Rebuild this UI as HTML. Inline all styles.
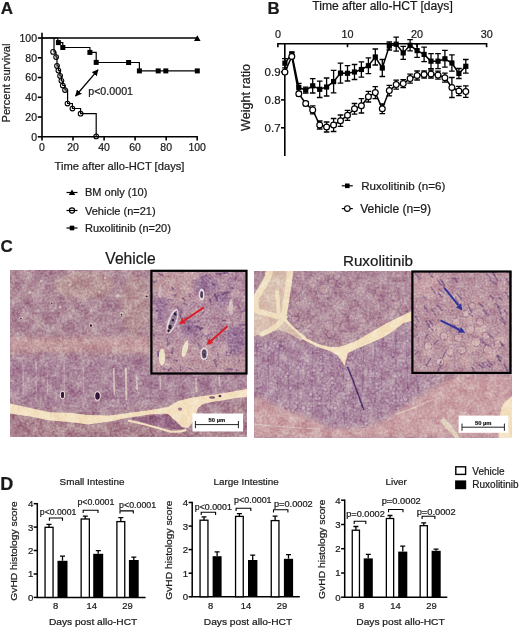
<!DOCTYPE html>
<html><head><meta charset="utf-8"><style>
html,body{margin:0;padding:0;background:#fff;}
svg{display:block;will-change:transform;}
text{font-family:"Liberation Sans", sans-serif;fill:#1a1a1a;stroke:#1a1a1a;stroke-width:0.22px;}
</style></head><body>
<svg width="520" height="629" viewBox="0 0 520 629">
<text x="0.8" y="13.8" font-size="17" text-anchor="start" font-weight="bold" >A</text>
<g stroke="#000" stroke-width="1.6" fill="none">
<path d="M42,32.8 V137.6 M41.2,136.8 H197.9"/>
<path d="M37.8,136.8 H42"/>
<path d="M37.8,117.0 H42"/>
<path d="M37.8,97.3 H42"/>
<path d="M37.8,77.5 H42"/>
<path d="M37.8,57.8 H42"/>
<path d="M37.8,38.0 H42"/>
<path d="M42.0,136.8 V140.6"/>
<path d="M73.0,136.8 V140.6"/>
<path d="M104.1,136.8 V140.6"/>
<path d="M135.1,136.8 V140.6"/>
<path d="M166.2,136.8 V140.6"/>
<path d="M197.2,136.8 V140.6"/>
</g>
<text x="37" y="140.5" font-size="10.5" text-anchor="end" >0</text>
<text x="37" y="120.7" font-size="10.5" text-anchor="end" >20</text>
<text x="37" y="101.0" font-size="10.5" text-anchor="end" >40</text>
<text x="37" y="81.2" font-size="10.5" text-anchor="end" >60</text>
<text x="37" y="61.5" font-size="10.5" text-anchor="end" >80</text>
<text x="37" y="41.7" font-size="10.5" text-anchor="end" >100</text>
<text x="42.0" y="151" font-size="10.5" text-anchor="middle" >0</text>
<text x="73.0" y="151" font-size="10.5" text-anchor="middle" >20</text>
<text x="104.1" y="151" font-size="10.5" text-anchor="middle" >40</text>
<text x="135.1" y="151" font-size="10.5" text-anchor="middle" >60</text>
<text x="166.2" y="151" font-size="10.5" text-anchor="middle" >80</text>
<text x="197.2" y="151" font-size="10.5" text-anchor="middle" >100</text>
<text x="119.5" y="170" font-size="11.2" text-anchor="middle" >Time after allo-HCT [days]</text>
<text transform="translate(9.6,83) rotate(-90)" font-size="11.1" text-anchor="middle">Percent survival</text>
<path d="M42,38 H197.3" stroke="#000" stroke-width="1.3" fill="none"/>
<path d="M197.3,35.2 L200.6,41 L194,41 Z" fill="#000"/>
<path d="M42,38 H57.8 V42.6 H62.8 V47.5 H89.9 V52.4 H96.2 V62.5 H139.4 V70.9 H197.3" stroke="#000" stroke-width="1.2" fill="none"/>
<rect x="55.9" y="40.1" width="5" height="5" fill="#000"/>
<rect x="60.3" y="45.0" width="5" height="5" fill="#000"/>
<rect x="87.4" y="49.9" width="5" height="5" fill="#000"/>
<rect x="93.7" y="59.9" width="5" height="5" fill="#000"/>
<rect x="126.1" y="60.0" width="5" height="5" fill="#000"/>
<rect x="136.9" y="68.4" width="5" height="5" fill="#000"/>
<rect x="155.7" y="68.4" width="5" height="5" fill="#000"/>
<rect x="163.3" y="68.4" width="5" height="5" fill="#000"/>
<rect x="194.8" y="68.4" width="5" height="5" fill="#000"/>
<path d="M54,38 V52 H56 V57 H57 V66 H58.4 V70.6 H60 V76 H61.4 V81 H62.8 V85.5 H65 V90 H67.6 V103.5 H72.4 V108.5 H80.6 V113.7 H96.2 V136.6" stroke="#000" stroke-width="1.2" fill="none"/>
<circle cx="53.1" cy="51.9" r="2.35" fill="none" stroke="#000" stroke-width="1.05"/>
<circle cx="56.1" cy="57.1" r="2.35" fill="none" stroke="#000" stroke-width="1.05"/>
<circle cx="57" cy="65.9" r="2.35" fill="none" stroke="#000" stroke-width="1.05"/>
<circle cx="58.4" cy="70.6" r="2.35" fill="none" stroke="#000" stroke-width="1.05"/>
<circle cx="60.1" cy="75.9" r="2.35" fill="none" stroke="#000" stroke-width="1.05"/>
<circle cx="61.4" cy="80.8" r="2.35" fill="none" stroke="#000" stroke-width="1.05"/>
<circle cx="62.8" cy="85.5" r="2.35" fill="none" stroke="#000" stroke-width="1.05"/>
<circle cx="65" cy="90" r="2.35" fill="none" stroke="#000" stroke-width="1.05"/>
<circle cx="67.5" cy="103.5" r="2.35" fill="none" stroke="#000" stroke-width="1.05"/>
<circle cx="72.4" cy="108.5" r="2.35" fill="none" stroke="#000" stroke-width="1.05"/>
<circle cx="80.6" cy="113.7" r="2.35" fill="none" stroke="#000" stroke-width="1.05"/>
<circle cx="96.2" cy="136.4" r="2.35" fill="none" stroke="#000" stroke-width="1.05"/>
<defs><marker id="ah" viewBox="0 0 10 10" refX="9" refY="5" markerWidth="5" markerHeight="5" orient="auto-start-reverse"><path d="M0,0 L10,5 L0,10 Z" fill="#000"/></marker></defs>
<path d="M75.6,96 L98,69.8" stroke="#000" stroke-width="1.3" marker-start="url(#ah)" marker-end="url(#ah)"/>
<text x="88.2" y="95.0" font-size="10.7" text-anchor="start" >p&lt;0.0001</text>
<path d="M66.5,192.5 H77.5" stroke="#000" stroke-width="1.2"/>
<path d="M72,189.5 L75.2,195.1 L68.8,195.1 Z" fill="#000"/>
<text x="85" y="196.3" font-size="11" text-anchor="start" >BM only (10)</text>
<path d="M66.5,210.5 H77.5" stroke="#000" stroke-width="1.2"/>
<circle cx="72" cy="210.5" r="2.6" fill="none" stroke="#000" stroke-width="1.1"/>
<text x="85" y="214.5" font-size="11" text-anchor="start" >Vehicle (n=21)</text>
<path d="M66.5,228 H77.5" stroke="#000" stroke-width="1.2"/>
<rect x="69.7" y="225.7" width="4.6" height="4.6" fill="#000"/>
<text x="85" y="231.8" font-size="11" text-anchor="start" >Ruxolitinib (n=20)</text>
<text x="267.6" y="13.8" font-size="16.8" text-anchor="start" font-weight="bold" >B</text>
<text x="312.3" y="10.4" font-size="12.1" text-anchor="start" >Time after allo-HCT [days]</text>
<g stroke="#000" stroke-width="1.6" fill="none">
<path d="M277.9,47.2 V43.8 H486.6 V47.2"/>
<path d="M347.5,43.8 V47.2"/>
<path d="M417.1,43.8 V47.2"/>
<path d="M284.8,43.8 V156"/>
<path d="M281,72.0 H284.8"/>
<path d="M281,99.9 H284.8"/>
<path d="M281,127.8 H284.8"/>
</g>
<text x="277.9" y="37.6" font-size="10.8" text-anchor="middle" >0</text>
<text x="347.5" y="37.6" font-size="10.8" text-anchor="middle" >10</text>
<text x="417.1" y="37.6" font-size="10.8" text-anchor="middle" >20</text>
<text x="486.7" y="37.6" font-size="10.8" text-anchor="middle" >30</text>
<text x="280.6" y="76.0" font-size="11.5" text-anchor="end" >0.9</text>
<text x="280.6" y="103.9" font-size="11.5" text-anchor="end" >0.8</text>
<text x="280.6" y="131.8" font-size="11.5" text-anchor="end" >0.7</text>
<text transform="translate(249.6,97.4) rotate(-90)" font-size="12.6" text-anchor="middle">Weight ratio</text>
<path d="M284.9,70.6 V73.6 M282.1,70.6 H287.7 M282.1,73.6 H287.7 M291.8,55.0 V58.0 M289.0,55.0 H294.6 M289.0,58.0 H294.6 M298.8,91.8 V95.8 M296.0,91.8 H301.6 M296.0,95.8 H301.6 M305.7,101.5 V105.5 M302.9,101.5 H308.5 M302.9,105.5 H308.5 M312.7,105.9 V113.9 M309.9,105.9 H315.5 M309.9,113.9 H315.5 M319.7,121.0 V129.0 M316.9,121.0 H322.5 M316.9,129.0 H322.5 M326.6,122.0 V132.0 M323.8,122.0 H329.4 M323.8,132.0 H329.4 M333.6,118.5 V131.5 M330.8,118.5 H336.4 M330.8,131.5 H336.4 M340.5,115.0 V126.4 M337.7,115.0 H343.3 M337.7,126.4 H343.3 M347.5,110.3 V120.3 M344.7,110.3 H350.3 M344.7,120.3 H350.3 M354.5,103.5 V114.1 M351.7,103.5 H357.3 M351.7,114.1 H357.3 M361.4,98.6 V113.0 M358.6,98.6 H364.2 M358.6,113.0 H364.2 M368.4,91.4 V102.0 M365.6,91.4 H371.2 M365.6,102.0 H371.2 M375.3,86.6 V98.6 M372.5,86.6 H378.1 M372.5,98.6 H378.1 M382.3,104.0 V113.6 M379.5,104.0 H385.1 M379.5,113.6 H385.1 M389.3,85.3 V95.9 M386.5,85.3 H392.1 M386.5,95.9 H392.1 M396.2,80.1 V89.1 M393.4,80.1 H399.0 M393.4,89.1 H399.0 M403.2,79.6 V87.6 M400.4,79.6 H406.0 M400.4,87.6 H406.0 M410.1,74.1 V83.1 M407.3,74.1 H412.9 M407.3,83.1 H412.9 M417.1,71.0 V80.0 M414.3,71.0 H419.9 M414.3,80.0 H419.9 M424.1,71.0 V78.0 M421.3,71.0 H426.9 M421.3,78.0 H426.9 M431.0,70.0 V78.0 M428.2,70.0 H433.8 M428.2,78.0 H433.8 M438.0,71.1 V79.1 M435.2,71.1 H440.8 M435.2,79.1 H440.8 M444.9,73.2 V82.2 M442.1,73.2 H447.7 M442.1,82.2 H447.7 M451.9,77.5 V97.5 M449.1,77.5 H454.7 M449.1,97.5 H454.7 M458.9,86.3 V95.7 M456.1,86.3 H461.7 M456.1,95.7 H461.7 M465.8,85.9 V97.3 M463.0,85.9 H468.6 M463.0,97.3 H468.6" stroke="#000" stroke-width="1.3" fill="none"/>
<path d="M284.9,58.6 V67.8 M282.1,58.6 H287.7 M282.1,67.8 H287.7 M291.8,52.3 V55.3 M289.0,52.3 H294.6 M289.0,55.3 H294.6 M298.8,83.4 V91.4 M296.0,83.4 H301.6 M296.0,91.4 H301.6 M305.7,87.1 V93.1 M302.9,87.1 H308.5 M302.9,93.1 H308.5 M312.7,78.6 V93.0 M309.9,78.6 H315.5 M309.9,93.0 H315.5 M319.7,81.1 V97.5 M316.9,81.1 H322.5 M316.9,97.5 H322.5 M326.6,78.0 V96.0 M323.8,78.0 H329.4 M323.8,96.0 H329.4 M333.6,70.3 V92.9 M330.8,70.3 H336.4 M330.8,92.9 H336.4 M340.5,63.1 V83.1 M337.7,63.1 H343.3 M337.7,83.1 H343.3 M347.5,65.6 V81.0 M344.7,65.6 H350.3 M344.7,81.0 H350.3 M354.5,64.5 V79.5 M351.7,64.5 H357.3 M351.7,79.5 H357.3 M361.4,61.8 V77.2 M358.6,61.8 H364.2 M358.6,77.2 H364.2 M368.4,57.8 V73.6 M365.6,57.8 H371.2 M365.6,73.6 H371.2 M375.3,49.0 V65.0 M372.5,49.0 H378.1 M372.5,65.0 H378.1 M382.3,59.5 V76.5 M379.5,59.5 H385.1 M379.5,76.5 H385.1 M389.3,42.0 V50.0 M386.5,42.0 H392.1 M386.5,50.0 H392.1 M396.2,37.2 V51.2 M393.4,37.2 H399.0 M393.4,51.2 H399.0 M403.2,46.4 V59.4 M400.4,46.4 H406.0 M400.4,59.4 H406.0 M410.1,39.7 V50.9 M407.3,39.7 H412.9 M407.3,50.9 H412.9 M417.1,43.8 V57.4 M414.3,43.8 H419.9 M414.3,57.4 H419.9 M424.1,47.2 V61.6 M421.3,47.2 H426.9 M421.3,61.6 H426.9 M431.0,53.7 V68.7 M428.2,53.7 H433.8 M428.2,68.7 H433.8 M438.0,53.7 V68.7 M435.2,53.7 H440.8 M435.2,68.7 H440.8 M444.9,50.4 V67.2 M442.1,50.4 H447.7 M442.1,67.2 H447.7 M451.9,54.8 V71.2 M449.1,54.8 H454.7 M449.1,71.2 H454.7 M458.9,68.5 V78.5 M456.1,68.5 H461.7 M456.1,78.5 H461.7 M465.8,59.5 V73.1 M463.0,59.5 H468.6 M463.0,73.1 H468.6" stroke="#000" stroke-width="1.3" fill="none"/>
<polyline points="284.9,72.1 291.8,56.5 298.8,93.8 305.7,103.5 312.7,109.9 319.7,125 326.6,127 333.6,125 340.5,120.7 347.5,115.3 354.5,108.8 361.4,105.8 368.4,96.7 375.3,92.6 382.3,108.8 389.3,90.6 396.2,84.6 403.2,83.6 410.1,78.6 417.1,75.5 424.1,74.5 431.0,74 438.0,75.1 444.9,77.7 451.9,87.5 458.9,91 465.8,91.6" stroke="#000" stroke-width="1.5" fill="none"/>
<polyline points="284.9,63.2 291.8,53.8 298.8,87.4 305.7,90.1 312.7,85.8 319.7,89.3 326.6,87.0 333.6,81.6 340.5,73.1 347.5,73.3 354.5,72 361.4,69.5 368.4,65.7 375.3,57 382.3,68 389.3,46 396.2,44.2 403.2,52.9 410.1,45.3 417.1,50.6 424.1,54.4 431.0,61.2 438.0,61.2 444.9,58.8 451.9,63 458.9,73.5 465.8,66.3" stroke="#000" stroke-width="1.5" fill="none"/>
<rect x="282.3" y="60.6" width="5.2" height="5.2" fill="#000"/>
<rect x="289.2" y="51.2" width="5.2" height="5.2" fill="#000"/>
<rect x="296.2" y="84.8" width="5.2" height="5.2" fill="#000"/>
<rect x="303.1" y="87.5" width="5.2" height="5.2" fill="#000"/>
<rect x="310.1" y="83.2" width="5.2" height="5.2" fill="#000"/>
<rect x="317.1" y="86.7" width="5.2" height="5.2" fill="#000"/>
<rect x="324.0" y="84.4" width="5.2" height="5.2" fill="#000"/>
<rect x="331.0" y="79.0" width="5.2" height="5.2" fill="#000"/>
<rect x="337.9" y="70.5" width="5.2" height="5.2" fill="#000"/>
<rect x="344.9" y="70.7" width="5.2" height="5.2" fill="#000"/>
<rect x="351.9" y="69.4" width="5.2" height="5.2" fill="#000"/>
<rect x="358.8" y="66.9" width="5.2" height="5.2" fill="#000"/>
<rect x="365.8" y="63.1" width="5.2" height="5.2" fill="#000"/>
<rect x="372.7" y="54.4" width="5.2" height="5.2" fill="#000"/>
<rect x="379.7" y="65.4" width="5.2" height="5.2" fill="#000"/>
<rect x="386.7" y="43.4" width="5.2" height="5.2" fill="#000"/>
<rect x="393.6" y="41.6" width="5.2" height="5.2" fill="#000"/>
<rect x="400.6" y="50.3" width="5.2" height="5.2" fill="#000"/>
<rect x="407.5" y="42.7" width="5.2" height="5.2" fill="#000"/>
<rect x="414.5" y="48.0" width="5.2" height="5.2" fill="#000"/>
<rect x="421.5" y="51.8" width="5.2" height="5.2" fill="#000"/>
<rect x="428.4" y="58.6" width="5.2" height="5.2" fill="#000"/>
<rect x="435.4" y="58.6" width="5.2" height="5.2" fill="#000"/>
<rect x="442.3" y="56.2" width="5.2" height="5.2" fill="#000"/>
<rect x="449.3" y="60.4" width="5.2" height="5.2" fill="#000"/>
<rect x="456.3" y="70.9" width="5.2" height="5.2" fill="#000"/>
<rect x="463.2" y="63.7" width="5.2" height="5.2" fill="#000"/>
<circle cx="284.9" cy="72.1" r="2.9" fill="#fff" stroke="#000" stroke-width="1.2"/>
<circle cx="291.8" cy="56.5" r="2.9" fill="#fff" stroke="#000" stroke-width="1.2"/>
<circle cx="298.8" cy="93.8" r="2.9" fill="#fff" stroke="#000" stroke-width="1.2"/>
<circle cx="305.7" cy="103.5" r="2.9" fill="#fff" stroke="#000" stroke-width="1.2"/>
<circle cx="312.7" cy="109.9" r="2.9" fill="#fff" stroke="#000" stroke-width="1.2"/>
<circle cx="319.7" cy="125" r="2.9" fill="#fff" stroke="#000" stroke-width="1.2"/>
<circle cx="326.6" cy="127" r="2.9" fill="#fff" stroke="#000" stroke-width="1.2"/>
<circle cx="333.6" cy="125" r="2.9" fill="#fff" stroke="#000" stroke-width="1.2"/>
<circle cx="340.5" cy="120.7" r="2.9" fill="#fff" stroke="#000" stroke-width="1.2"/>
<circle cx="347.5" cy="115.3" r="2.9" fill="#fff" stroke="#000" stroke-width="1.2"/>
<circle cx="354.5" cy="108.8" r="2.9" fill="#fff" stroke="#000" stroke-width="1.2"/>
<circle cx="361.4" cy="105.8" r="2.9" fill="#fff" stroke="#000" stroke-width="1.2"/>
<circle cx="368.4" cy="96.7" r="2.9" fill="#fff" stroke="#000" stroke-width="1.2"/>
<circle cx="375.3" cy="92.6" r="2.9" fill="#fff" stroke="#000" stroke-width="1.2"/>
<circle cx="382.3" cy="108.8" r="2.9" fill="#fff" stroke="#000" stroke-width="1.2"/>
<circle cx="389.3" cy="90.6" r="2.9" fill="#fff" stroke="#000" stroke-width="1.2"/>
<circle cx="396.2" cy="84.6" r="2.9" fill="#fff" stroke="#000" stroke-width="1.2"/>
<circle cx="403.2" cy="83.6" r="2.9" fill="#fff" stroke="#000" stroke-width="1.2"/>
<circle cx="410.1" cy="78.6" r="2.9" fill="#fff" stroke="#000" stroke-width="1.2"/>
<circle cx="417.1" cy="75.5" r="2.9" fill="#fff" stroke="#000" stroke-width="1.2"/>
<circle cx="424.1" cy="74.5" r="2.9" fill="#fff" stroke="#000" stroke-width="1.2"/>
<circle cx="431.0" cy="74" r="2.9" fill="#fff" stroke="#000" stroke-width="1.2"/>
<circle cx="438.0" cy="75.1" r="2.9" fill="#fff" stroke="#000" stroke-width="1.2"/>
<circle cx="444.9" cy="77.7" r="2.9" fill="#fff" stroke="#000" stroke-width="1.2"/>
<circle cx="451.9" cy="87.5" r="2.9" fill="#fff" stroke="#000" stroke-width="1.2"/>
<circle cx="458.9" cy="91" r="2.9" fill="#fff" stroke="#000" stroke-width="1.2"/>
<circle cx="465.8" cy="91.6" r="2.9" fill="#fff" stroke="#000" stroke-width="1.2"/>
<path d="M341.8,185.8 H352.8" stroke="#000" stroke-width="1.2"/>
<rect x="345.0" y="183.5" width="4.6" height="4.6" fill="#000"/>
<text x="361.2" y="189.6" font-size="11.6" text-anchor="start" >Ruxolitinib (n=6)</text>
<path d="M341.8,208.6 H352.8" stroke="#000" stroke-width="1.2"/>
<circle cx="347.3" cy="208.6" r="2.8" fill="#fff" stroke="#000" stroke-width="1.1"/>
<text x="360.2" y="212.6" font-size="12.1" text-anchor="start" >Vehicle (n=9)</text>
<text x="0.6" y="252.3" font-size="17" text-anchor="start" font-weight="bold" >C</text>
<text x="130.5" y="264.2" font-size="15.6" text-anchor="middle" >Vehicle</text>
<text x="378" y="265.6" font-size="15.2" text-anchor="middle" >Ruxolitinib</text>
<defs>
<filter id="nz1" x="0" y="0" width="100%" height="100%" color-interpolation-filters="sRGB">
 <feTurbulence type="fractalNoise" baseFrequency="0.4" numOctaves="2" seed="4" result="f0"/>
 <feColorMatrix in="f0" type="matrix" values="1 0 0 0 0  1 0 0 0 0  1 0 0 0 0  0 0 0 0 1" result="f"/>
 <feTurbulence type="fractalNoise" baseFrequency="0.09" numOctaves="2" seed="7" result="c0"/>
 <feColorMatrix in="c0" type="matrix" values="1 0 0 0 0  1 0 0 0 0  1 0 0 0 0  0 0 0 0 1" result="c"/>
 <feComposite in="f" in2="c" operator="arithmetic" k1="0" k2="0.5333333333333333" k3="0.4666666666666666" k4="0.000" result="n"/>
 <feColorMatrix in="n" type="matrix" values="0.8624999999999999 0 0 0 0.069  0 0.9375 0 0 0.031  0 0 0.75 0 0.125  0 0 0 0 1" result="m"/>
 <feGaussianBlur in="m" stdDeviation="0.35"/>
</filter>
<filter id="nz2" x="0" y="0" width="100%" height="100%" color-interpolation-filters="sRGB">
 <feTurbulence type="fractalNoise" baseFrequency="0.4" numOctaves="2" seed="13" result="f0"/>
 <feColorMatrix in="f0" type="matrix" values="1 0 0 0 0  1 0 0 0 0  1 0 0 0 0  0 0 0 0 1" result="f"/>
 <feTurbulence type="fractalNoise" baseFrequency="0.09" numOctaves="2" seed="21" result="c0"/>
 <feColorMatrix in="c0" type="matrix" values="1 0 0 0 0  1 0 0 0 0  1 0 0 0 0  0 0 0 0 1" result="c"/>
 <feComposite in="f" in2="c" operator="arithmetic" k1="0" k2="0.5333333333333333" k3="0.4666666666666666" k4="0.000" result="n"/>
 <feColorMatrix in="n" type="matrix" values="0.8624999999999999 0 0 0 0.069  0 0.9375 0 0 0.031  0 0 0.75 0 0.125  0 0 0 0 1" result="m"/>
 <feGaussianBlur in="m" stdDeviation="0.35"/>
</filter>
<filter id="nz3" x="0" y="0" width="100%" height="100%" color-interpolation-filters="sRGB">
 <feTurbulence type="fractalNoise" baseFrequency="0.5" numOctaves="2" seed="5" result="f0"/>
 <feColorMatrix in="f0" type="matrix" values="1 0 0 0 0  1 0 0 0 0  1 0 0 0 0  0 0 0 0 1" result="f"/>
 <feTurbulence type="fractalNoise" baseFrequency="0.12" numOctaves="2" seed="31" result="c0"/>
 <feColorMatrix in="c0" type="matrix" values="1 0 0 0 0  1 0 0 0 0  1 0 0 0 0  0 0 0 0 1" result="c"/>
 <feComposite in="f" in2="c" operator="arithmetic" k1="0" k2="0.6" k3="0.39999999999999997" k4="0.000" result="n"/>
 <feColorMatrix in="n" type="matrix" values="0.8624999999999999 0 0 0 0.069  0 0.9375 0 0 0.031  0 0 0.75 0 0.125  0 0 0 0 1" result="m"/>
 <feGaussianBlur in="m" stdDeviation="0.35"/>
</filter>
<filter id="soft" x="-5%" y="-5%" width="110%" height="110%"><feGaussianBlur stdDeviation="2"/></filter>
<filter id="soft2" x="-5%" y="-5%" width="110%" height="110%"><feGaussianBlur stdDeviation="0.6"/></filter>
<clipPath id="cL"><rect x="10" y="270" width="237" height="167"/></clipPath>
<clipPath id="cR"><rect x="254" y="271" width="257.5" height="167"/></clipPath>
<clipPath id="cLi"><rect x="151.4" y="270.8" width="95.1" height="102.7"/></clipPath>
<clipPath id="cRi"><rect x="412.4" y="271.5" width="98" height="101.4"/></clipPath>
</defs>
<g clip-path="url(#cL)" style="isolation:isolate">
<rect x="10" y="270" width="237" height="167" fill="rgb(174,139,153)"/>
<g filter="url(#soft)">
<ellipse cx="85" cy="285" rx="30" ry="14" fill="rgb(184,150,152)"/>
<ellipse cx="135" cy="305" rx="14" ry="30" fill="rgb(182,148,152)"/>
<path d="M10,337 C60,338 110,337 150,336 L150,353 C110,353 60,352 10,353 Z" fill="rgb(194,155,158)"/>
<path d="M10,356 L247,356 L247,390 C200,396 150,405 100,412 C60,410 30,404 10,402 Z" fill="rgb(170,134,154)"/>
<path d="M10,412 C40,418 80,424 120,422 C150,424 170,430 190,430 L247,400 L247,437 L10,437 Z" fill="rgb(170,131,142)"/>
</g>
<g filter="url(#soft2)">
<path d="M113.7,368 L114.3,395" stroke="rgb(212,192,185)" stroke-width="1.8"/>
<path d="M125.8,368 L126.39999999999999,400" stroke="rgb(218,200,192)" stroke-width="2.0"/>
<path d="M136.5,375 L137.1,390" stroke="rgb(205,185,182)" stroke-width="1.8"/>
<path d="M196,378 L196.6,392" stroke="rgb(205,185,182)" stroke-width="1.8"/>
<path d="M219,375 L219.6,386" stroke="rgb(200,180,180)" stroke-width="1.8"/>
<path d="M160,376 L160.6,390" stroke="rgb(205,180,185)" stroke-width="1.6"/>
<path d="M64,360 L64.6,392" stroke="rgb(190,160,172)" stroke-width="1.5"/>
<path d="M83,360 L83.6,392" stroke="rgb(190,160,172)" stroke-width="1.5"/>
<path d="M36,362 L36.6,395" stroke="rgb(188,158,170)" stroke-width="1.5"/>
<path d="M23,362 L23.6,395" stroke="rgb(188,158,170)" stroke-width="1.5"/>
<path d="M47,362 L47.6,395" stroke="rgb(188,158,170)" stroke-width="1.2"/>
<ellipse cx="21" cy="318" rx="2" ry="1.6" fill="rgb(218,200,190)" opacity="0.8"/>
<ellipse cx="51.8" cy="302.9" rx="1.6" ry="1.6" fill="rgb(218,200,190)" opacity="0.8"/>
<ellipse cx="60.2" cy="307" rx="1.5" ry="1.5" fill="rgb(218,200,190)" opacity="0.8"/>
<ellipse cx="90.9" cy="325" rx="2.2" ry="2.6" fill="rgb(218,200,190)" opacity="0.8"/>
<ellipse cx="121.5" cy="314" rx="1.8" ry="2" fill="rgb(218,200,190)" opacity="0.8"/>
<ellipse cx="146.6" cy="295.9" rx="2.4" ry="1.8" fill="rgb(218,200,190)" opacity="0.8"/>
<ellipse cx="117.4" cy="295.9" rx="2.3" ry="1.6" fill="rgb(218,200,190)" opacity="0.8"/>
<ellipse cx="70" cy="285" rx="1.5" ry="1.5" fill="rgb(218,200,190)" opacity="0.8"/>
<ellipse cx="99" cy="292" rx="1.5" ry="1.5" fill="rgb(218,200,190)" opacity="0.8"/>
<ellipse cx="30" cy="292" rx="1.5" ry="1.5" fill="rgb(218,200,190)" opacity="0.8"/>
<ellipse cx="41" cy="281" rx="1.3" ry="1.3" fill="rgb(218,200,190)" opacity="0.8"/>
<ellipse cx="105" cy="278" rx="1.3" ry="1.3" fill="rgb(218,200,190)" opacity="0.8"/>
<ellipse cx="21" cy="318.5" rx="0.9" ry="0.8" fill="rgb(60,35,60)"/>
<ellipse cx="90.9" cy="325.5" rx="1.2" ry="1.6" fill="rgb(60,35,60)"/>
<ellipse cx="121.5" cy="314.5" rx="0.9" ry="1" fill="rgb(60,35,60)"/>
<ellipse cx="146.6" cy="296.3" rx="1.2" ry="0.9" fill="rgb(60,35,60)"/>
<ellipse cx="51.8" cy="303.3" rx="0.8" ry="0.8" fill="rgb(60,35,60)"/>
<ellipse cx="62.5" cy="395" rx="2.6" ry="4.2" fill="rgb(235,225,220)"/>
<ellipse cx="62.5" cy="395" rx="1.6" ry="3.2" fill="rgb(60,30,60)"/>
<ellipse cx="97.5" cy="396" rx="3.2" ry="4.8" fill="rgb(235,225,220)"/>
<ellipse cx="97.5" cy="396" rx="2.3" ry="3.8" fill="rgb(50,25,55)"/>
</g>
<g filter="url(#soft2)">
<polygon points="10,403.5 30,408 50,412.2 70,412.7 88,415 110,415.4 128,413 150,410 168,407 178,401 190,398 203,396 215,394.5 230,392 247,389 247,397 236,398 225,400 212,402 203,404 198,408 196,414 193,422 188,428 182,427 176,421 170,416 166,413.5 150,414.6 128,417.7 110,421.5 88,424.6 70,422 50,420.4 30,416.5 10,413.5" fill="rgb(243,224,192)"/>
<path d="M128,420.5 C140,423 155,427 168,431 C174,432.5 180,432 186,430" stroke="rgb(243,224,192)" stroke-width="2" fill="none"/>
<path d="M130,418.5 C145,417 158,415 168,414 C174,420 180,426 184,429 C175,430 160,428 145,423 Z" fill="rgb(150,104,132)"/>
<ellipse cx="180" cy="409" rx="2" ry="1.5" fill="rgb(150,110,140)"/>
<ellipse cx="212" cy="397.5" rx="3" ry="1.2" fill="rgb(120,80,110)"/>
<ellipse cx="220" cy="396" rx="1.5" ry="1.2" fill="rgb(80,50,80)"/>
</g>
<rect x="10" y="270" width="237" height="167" filter="url(#nz1)" style="mix-blend-mode:overlay" opacity="0.8"/>
</g>
<g clip-path="url(#cR)" style="isolation:isolate">
<rect x="254" y="271" width="258" height="167" fill="rgb(177,142,157)"/>
<g filter="url(#soft)">
<polygon points="254,336 275,339 290,341 305,344 330,350 345,352 360,345 380,335 400,322 412,316 412,374 440,374 425,392 400,410 385,418 360,427 340,429 320,424 300,414 280,405 265,398 254,395" fill="rgb(175,141,162)"/>
<polygon points="254,396 262,399 280,408 304,416 318,422 325,427 340,428.5 360,428 380,423 395,413 410,403 425,393 440,384 450,378 460,375 512,375 512,438 254,438" fill="rgb(202,162,166)"/>
</g>
<g filter="url(#soft2)">
<path d="M257.0,339 L257.2,393" stroke="rgb(135,98,140)" stroke-width="1.2" opacity="0.4"/>
<path d="M268.0,340 L268.6,397" stroke="rgb(135,98,140)" stroke-width="1.2" opacity="0.4"/>
<path d="M279.5,342 L276.9,402" stroke="rgb(135,98,140)" stroke-width="1.2" opacity="0.4"/>
<path d="M287.6,343 L289.6,406" stroke="rgb(135,98,140)" stroke-width="1.2" opacity="0.4"/>
<path d="M299.0,345 L297.4,411" stroke="rgb(135,98,140)" stroke-width="1.2" opacity="0.4"/>
<path d="M312.5,348 L312.3,418" stroke="rgb(135,98,140)" stroke-width="1.2" opacity="0.4"/>
<path d="M322.3,351 L322.2,422" stroke="rgb(135,98,140)" stroke-width="1.2" opacity="0.4"/>
<path d="M332.1,353 L330.0,425" stroke="rgb(135,98,140)" stroke-width="1.2" opacity="0.4"/>
<path d="M342.5,354 L344.7,426" stroke="rgb(135,98,140)" stroke-width="1.2" opacity="0.4"/>
<path d="M352.6,351 L354.0,425" stroke="rgb(135,98,140)" stroke-width="1.2" opacity="0.4"/>
<path d="M363.7,346 L361.1,423" stroke="rgb(135,98,140)" stroke-width="1.2" opacity="0.4"/>
<path d="M374.5,340 L375.1,419" stroke="rgb(135,98,140)" stroke-width="1.2" opacity="0.4"/>
<path d="M383.2,335 L380.4,416" stroke="rgb(135,98,140)" stroke-width="1.2" opacity="0.4"/>
<path d="M396.0,332 L395.8,410" stroke="rgb(135,98,140)" stroke-width="1.2" opacity="0.4"/>
<path d="M405.9,332 L408.1,403" stroke="rgb(135,98,140)" stroke-width="1.2" opacity="0.4"/>
<path d="M416.4,376 L418.9,396" stroke="rgb(135,98,140)" stroke-width="1.2" opacity="0.4"/>
<circle cx="327.5" cy="412.1" r="1.9" fill="rgb(200,170,184)" stroke="rgb(135,98,140)" stroke-width="0.6" opacity="0.6"/>
<circle cx="272.1" cy="352.2" r="1.7" fill="rgb(200,170,184)" stroke="rgb(135,98,140)" stroke-width="0.6" opacity="0.6"/>
<circle cx="433.6" cy="379.3" r="2.1" fill="rgb(200,170,184)" stroke="rgb(135,98,140)" stroke-width="0.6" opacity="0.6"/>
<circle cx="310.0" cy="385.7" r="1.8" fill="rgb(200,170,184)" stroke="rgb(135,98,140)" stroke-width="0.6" opacity="0.6"/>
<circle cx="319.3" cy="392.7" r="2.0" fill="rgb(200,170,184)" stroke="rgb(135,98,140)" stroke-width="0.6" opacity="0.6"/>
<circle cx="359.9" cy="404.2" r="1.7" fill="rgb(200,170,184)" stroke="rgb(135,98,140)" stroke-width="0.6" opacity="0.6"/>
<circle cx="408.7" cy="391.6" r="1.8" fill="rgb(200,170,184)" stroke="rgb(135,98,140)" stroke-width="0.6" opacity="0.6"/>
<circle cx="402.9" cy="376.9" r="1.6" fill="rgb(200,170,184)" stroke="rgb(135,98,140)" stroke-width="0.6" opacity="0.6"/>
<circle cx="308.7" cy="409.2" r="2.3" fill="rgb(200,170,184)" stroke="rgb(135,98,140)" stroke-width="0.6" opacity="0.6"/>
<circle cx="262.2" cy="395.3" r="1.5" fill="rgb(200,170,184)" stroke="rgb(135,98,140)" stroke-width="0.6" opacity="0.6"/>
<circle cx="387.6" cy="369.8" r="2.3" fill="rgb(200,170,184)" stroke="rgb(135,98,140)" stroke-width="0.6" opacity="0.6"/>
<circle cx="268.3" cy="394.0" r="1.5" fill="rgb(200,170,184)" stroke="rgb(135,98,140)" stroke-width="0.6" opacity="0.6"/>
<circle cx="290.7" cy="376.7" r="2.0" fill="rgb(200,170,184)" stroke="rgb(135,98,140)" stroke-width="0.6" opacity="0.6"/>
<circle cx="283.1" cy="343.8" r="2.3" fill="rgb(200,170,184)" stroke="rgb(135,98,140)" stroke-width="0.6" opacity="0.6"/>
<circle cx="420.8" cy="374.0" r="1.9" fill="rgb(200,170,184)" stroke="rgb(135,98,140)" stroke-width="0.6" opacity="0.6"/>
<circle cx="350.7" cy="397.9" r="2.0" fill="rgb(200,170,184)" stroke="rgb(135,98,140)" stroke-width="0.6" opacity="0.6"/>
<circle cx="358.0" cy="395.8" r="2.3" fill="rgb(200,170,184)" stroke="rgb(135,98,140)" stroke-width="0.6" opacity="0.6"/>
<circle cx="348.3" cy="378.8" r="2.1" fill="rgb(200,170,184)" stroke="rgb(135,98,140)" stroke-width="0.6" opacity="0.6"/>
<circle cx="298.2" cy="367.1" r="2.4" fill="rgb(200,170,184)" stroke="rgb(135,98,140)" stroke-width="0.6" opacity="0.6"/>
<circle cx="350.9" cy="389.4" r="1.5" fill="rgb(200,170,184)" stroke="rgb(135,98,140)" stroke-width="0.6" opacity="0.6"/>
<circle cx="331.2" cy="392.2" r="1.5" fill="rgb(200,170,184)" stroke="rgb(135,98,140)" stroke-width="0.6" opacity="0.6"/>
<circle cx="368.5" cy="396.9" r="1.6" fill="rgb(200,170,184)" stroke="rgb(135,98,140)" stroke-width="0.6" opacity="0.6"/>
<circle cx="370.7" cy="382.0" r="2.1" fill="rgb(200,170,184)" stroke="rgb(135,98,140)" stroke-width="0.6" opacity="0.6"/>
<circle cx="319.6" cy="403.6" r="2.2" fill="rgb(200,170,184)" stroke="rgb(135,98,140)" stroke-width="0.6" opacity="0.6"/>
<circle cx="258.1" cy="345.5" r="2.1" fill="rgb(200,170,184)" stroke="rgb(135,98,140)" stroke-width="0.6" opacity="0.6"/>
<circle cx="338.9" cy="393.3" r="1.8" fill="rgb(200,170,184)" stroke="rgb(135,98,140)" stroke-width="0.6" opacity="0.6"/>
<circle cx="321.7" cy="368.1" r="1.8" fill="rgb(200,170,184)" stroke="rgb(135,98,140)" stroke-width="0.6" opacity="0.6"/>
<circle cx="364.8" cy="367.0" r="1.8" fill="rgb(200,170,184)" stroke="rgb(135,98,140)" stroke-width="0.6" opacity="0.6"/>
<circle cx="397.6" cy="342.4" r="2.0" fill="rgb(200,170,184)" stroke="rgb(135,98,140)" stroke-width="0.6" opacity="0.6"/>
<circle cx="390.7" cy="367.9" r="1.7" fill="rgb(200,170,184)" stroke="rgb(135,98,140)" stroke-width="0.6" opacity="0.6"/>
<circle cx="403.5" cy="361.5" r="1.7" fill="rgb(200,170,184)" stroke="rgb(135,98,140)" stroke-width="0.6" opacity="0.6"/>
<circle cx="335.0" cy="402.8" r="1.6" fill="rgb(200,170,184)" stroke="rgb(135,98,140)" stroke-width="0.6" opacity="0.6"/>
<circle cx="313.9" cy="370.0" r="2.3" fill="rgb(200,170,184)" stroke="rgb(135,98,140)" stroke-width="0.6" opacity="0.6"/>
<circle cx="335.5" cy="417.0" r="1.7" fill="rgb(200,170,184)" stroke="rgb(135,98,140)" stroke-width="0.6" opacity="0.6"/>
<circle cx="316.6" cy="398.5" r="2.3" fill="rgb(200,170,184)" stroke="rgb(135,98,140)" stroke-width="0.6" opacity="0.6"/>
<circle cx="337.9" cy="360.3" r="1.6" fill="rgb(200,170,184)" stroke="rgb(135,98,140)" stroke-width="0.6" opacity="0.6"/>
<circle cx="352.5" cy="357.2" r="2.2" fill="rgb(200,170,184)" stroke="rgb(135,98,140)" stroke-width="0.6" opacity="0.6"/>
<circle cx="410.0" cy="356.5" r="1.8" fill="rgb(200,170,184)" stroke="rgb(135,98,140)" stroke-width="0.6" opacity="0.6"/>
<circle cx="404.1" cy="397.8" r="2.2" fill="rgb(200,170,184)" stroke="rgb(135,98,140)" stroke-width="0.6" opacity="0.6"/>
<circle cx="318.2" cy="351.7" r="1.8" fill="rgb(200,170,184)" stroke="rgb(135,98,140)" stroke-width="0.6" opacity="0.6"/>
<circle cx="401.7" cy="364.4" r="1.8" fill="rgb(200,170,184)" stroke="rgb(135,98,140)" stroke-width="0.6" opacity="0.6"/>
<circle cx="331.5" cy="377.8" r="1.9" fill="rgb(200,170,184)" stroke="rgb(135,98,140)" stroke-width="0.6" opacity="0.6"/>
<circle cx="334.8" cy="425.5" r="2.3" fill="rgb(200,170,184)" stroke="rgb(135,98,140)" stroke-width="0.6" opacity="0.6"/>
<circle cx="295.3" cy="407.1" r="2.3" fill="rgb(200,170,184)" stroke="rgb(135,98,140)" stroke-width="0.6" opacity="0.6"/>
<circle cx="377.3" cy="386.7" r="1.8" fill="rgb(200,170,184)" stroke="rgb(135,98,140)" stroke-width="0.6" opacity="0.6"/>
<circle cx="317.4" cy="360.5" r="1.6" fill="rgb(200,170,184)" stroke="rgb(135,98,140)" stroke-width="0.6" opacity="0.6"/>
<circle cx="363.5" cy="365.8" r="2.2" fill="rgb(200,170,184)" stroke="rgb(135,98,140)" stroke-width="0.6" opacity="0.6"/>
<circle cx="392.6" cy="355.5" r="1.8" fill="rgb(200,170,184)" stroke="rgb(135,98,140)" stroke-width="0.6" opacity="0.6"/>
<circle cx="377.3" cy="387.2" r="1.9" fill="rgb(200,170,184)" stroke="rgb(135,98,140)" stroke-width="0.6" opacity="0.6"/>
<circle cx="317.5" cy="362.7" r="2.3" fill="rgb(200,170,184)" stroke="rgb(135,98,140)" stroke-width="0.6" opacity="0.6"/>
<circle cx="342.8" cy="410.4" r="1.8" fill="rgb(200,170,184)" stroke="rgb(135,98,140)" stroke-width="0.6" opacity="0.6"/>
<circle cx="290.7" cy="388.1" r="2.2" fill="rgb(200,170,184)" stroke="rgb(135,98,140)" stroke-width="0.6" opacity="0.6"/>
<circle cx="407.2" cy="340.7" r="2.1" fill="rgb(200,170,184)" stroke="rgb(135,98,140)" stroke-width="0.6" opacity="0.6"/>
<circle cx="304.5" cy="364.2" r="2.0" fill="rgb(200,170,184)" stroke="rgb(135,98,140)" stroke-width="0.6" opacity="0.6"/>
<circle cx="332.7" cy="382.6" r="2.2" fill="rgb(200,170,184)" stroke="rgb(135,98,140)" stroke-width="0.6" opacity="0.6"/>
<circle cx="254.3" cy="344.9" r="1.6" fill="rgb(200,170,184)" stroke="rgb(135,98,140)" stroke-width="0.6" opacity="0.6"/>
<circle cx="277.2" cy="346.2" r="2.4" fill="rgb(200,170,184)" stroke="rgb(135,98,140)" stroke-width="0.6" opacity="0.6"/>
<circle cx="347.4" cy="368.4" r="1.8" fill="rgb(200,170,184)" stroke="rgb(135,98,140)" stroke-width="0.6" opacity="0.6"/>
<circle cx="319.3" cy="398.2" r="2.0" fill="rgb(200,170,184)" stroke="rgb(135,98,140)" stroke-width="0.6" opacity="0.6"/>
<circle cx="321.1" cy="357.2" r="1.8" fill="rgb(200,170,184)" stroke="rgb(135,98,140)" stroke-width="0.6" opacity="0.6"/>
<circle cx="277.0" cy="390.0" r="2.1" fill="rgb(200,170,184)" stroke="rgb(135,98,140)" stroke-width="0.6" opacity="0.6"/>
<circle cx="287.2" cy="373.6" r="2.0" fill="rgb(200,170,184)" stroke="rgb(135,98,140)" stroke-width="0.6" opacity="0.6"/>
<circle cx="399.6" cy="374.2" r="2.2" fill="rgb(200,170,184)" stroke="rgb(135,98,140)" stroke-width="0.6" opacity="0.6"/>
<circle cx="369.9" cy="378.8" r="1.8" fill="rgb(200,170,184)" stroke="rgb(135,98,140)" stroke-width="0.6" opacity="0.6"/>
<circle cx="346.3" cy="403.3" r="1.9" fill="rgb(200,170,184)" stroke="rgb(135,98,140)" stroke-width="0.6" opacity="0.6"/>
<circle cx="383.1" cy="381.5" r="1.7" fill="rgb(200,170,184)" stroke="rgb(135,98,140)" stroke-width="0.6" opacity="0.6"/>
<circle cx="353.7" cy="402.6" r="1.6" fill="rgb(200,170,184)" stroke="rgb(135,98,140)" stroke-width="0.6" opacity="0.6"/>
<circle cx="333.0" cy="378.3" r="2.3" fill="rgb(200,170,184)" stroke="rgb(135,98,140)" stroke-width="0.6" opacity="0.6"/>
<circle cx="302.8" cy="381.8" r="1.6" fill="rgb(200,170,184)" stroke="rgb(135,98,140)" stroke-width="0.6" opacity="0.6"/>
<circle cx="405.3" cy="399.6" r="2.3" fill="rgb(200,170,184)" stroke="rgb(135,98,140)" stroke-width="0.6" opacity="0.6"/>
<circle cx="401.4" cy="400.1" r="2.2" fill="rgb(200,170,184)" stroke="rgb(135,98,140)" stroke-width="0.6" opacity="0.6"/>
<circle cx="358.9" cy="349.3" r="2.0" fill="rgb(200,170,184)" stroke="rgb(135,98,140)" stroke-width="0.6" opacity="0.6"/>
<circle cx="254.9" cy="352.9" r="2.2" fill="rgb(200,170,184)" stroke="rgb(135,98,140)" stroke-width="0.6" opacity="0.6"/>
<circle cx="262.2" cy="348.3" r="1.6" fill="rgb(200,170,184)" stroke="rgb(135,98,140)" stroke-width="0.6" opacity="0.6"/>
<circle cx="379.3" cy="415.3" r="2.4" fill="rgb(200,170,184)" stroke="rgb(135,98,140)" stroke-width="0.6" opacity="0.6"/>
<circle cx="361.7" cy="411.9" r="1.5" fill="rgb(200,170,184)" stroke="rgb(135,98,140)" stroke-width="0.6" opacity="0.6"/>
<circle cx="396.7" cy="386.0" r="2.1" fill="rgb(200,170,184)" stroke="rgb(135,98,140)" stroke-width="0.6" opacity="0.6"/>
<circle cx="314.3" cy="390.8" r="2.2" fill="rgb(200,170,184)" stroke="rgb(135,98,140)" stroke-width="0.6" opacity="0.6"/>
<circle cx="299.0" cy="356.2" r="1.7" fill="rgb(200,170,184)" stroke="rgb(135,98,140)" stroke-width="0.6" opacity="0.6"/>
<circle cx="368.6" cy="407.8" r="1.9" fill="rgb(200,170,184)" stroke="rgb(135,98,140)" stroke-width="0.6" opacity="0.6"/>
<circle cx="322.3" cy="375.7" r="1.8" fill="rgb(200,170,184)" stroke="rgb(135,98,140)" stroke-width="0.6" opacity="0.6"/>
<circle cx="347.1" cy="427.6" r="1.9" fill="rgb(200,170,184)" stroke="rgb(135,98,140)" stroke-width="0.6" opacity="0.6"/>
<circle cx="393.0" cy="354.5" r="2.1" fill="rgb(200,170,184)" stroke="rgb(135,98,140)" stroke-width="0.6" opacity="0.6"/>
<circle cx="394.6" cy="400.6" r="2.0" fill="rgb(200,170,184)" stroke="rgb(135,98,140)" stroke-width="0.6" opacity="0.6"/>
<circle cx="344.0" cy="397.9" r="2.3" fill="rgb(200,170,184)" stroke="rgb(135,98,140)" stroke-width="0.6" opacity="0.6"/>
<circle cx="281.8" cy="348.6" r="2.2" fill="rgb(200,170,184)" stroke="rgb(135,98,140)" stroke-width="0.6" opacity="0.6"/>
<circle cx="424.5" cy="386.6" r="1.9" fill="rgb(200,170,184)" stroke="rgb(135,98,140)" stroke-width="0.6" opacity="0.6"/>
<circle cx="387.7" cy="356.7" r="1.7" fill="rgb(200,170,184)" stroke="rgb(135,98,140)" stroke-width="0.6" opacity="0.6"/>
<circle cx="291.0" cy="392.7" r="1.8" fill="rgb(200,170,184)" stroke="rgb(135,98,140)" stroke-width="0.6" opacity="0.6"/>
<circle cx="297.2" cy="402.2" r="2.4" fill="rgb(200,170,184)" stroke="rgb(135,98,140)" stroke-width="0.6" opacity="0.6"/>
<circle cx="309.0" cy="403.5" r="1.9" fill="rgb(200,170,184)" stroke="rgb(135,98,140)" stroke-width="0.6" opacity="0.6"/>
<circle cx="412.8" cy="392.6" r="1.7" fill="rgb(200,170,184)" stroke="rgb(135,98,140)" stroke-width="0.6" opacity="0.6"/>
<circle cx="294.5" cy="342.1" r="1.9" fill="rgb(200,170,184)" stroke="rgb(135,98,140)" stroke-width="0.6" opacity="0.6"/>
<circle cx="325.2" cy="355.5" r="1.8" fill="rgb(200,170,184)" stroke="rgb(135,98,140)" stroke-width="0.6" opacity="0.6"/>
<circle cx="313.9" cy="409.7" r="1.6" fill="rgb(200,170,184)" stroke="rgb(135,98,140)" stroke-width="0.6" opacity="0.6"/>
<circle cx="365.4" cy="382.1" r="2.3" fill="rgb(200,170,184)" stroke="rgb(135,98,140)" stroke-width="0.6" opacity="0.6"/>
<circle cx="406.8" cy="390.1" r="1.9" fill="rgb(200,170,184)" stroke="rgb(135,98,140)" stroke-width="0.6" opacity="0.6"/>
<circle cx="328.4" cy="406.0" r="2.4" fill="rgb(200,170,184)" stroke="rgb(135,98,140)" stroke-width="0.6" opacity="0.6"/>
<circle cx="340.9" cy="360.7" r="1.7" fill="rgb(200,170,184)" stroke="rgb(135,98,140)" stroke-width="0.6" opacity="0.6"/>
<circle cx="387.5" cy="400.8" r="2.4" fill="rgb(200,170,184)" stroke="rgb(135,98,140)" stroke-width="0.6" opacity="0.6"/>
<circle cx="289.3" cy="363.3" r="1.7" fill="rgb(200,170,184)" stroke="rgb(135,98,140)" stroke-width="0.6" opacity="0.6"/>
<circle cx="385.1" cy="417.3" r="2.3" fill="rgb(200,170,184)" stroke="rgb(135,98,140)" stroke-width="0.6" opacity="0.6"/>
<circle cx="312.3" cy="378.1" r="2.2" fill="rgb(200,170,184)" stroke="rgb(135,98,140)" stroke-width="0.6" opacity="0.6"/>
<circle cx="270.0" cy="348.3" r="2.3" fill="rgb(200,170,184)" stroke="rgb(135,98,140)" stroke-width="0.6" opacity="0.6"/>
<circle cx="308.3" cy="372.1" r="2.0" fill="rgb(200,170,184)" stroke="rgb(135,98,140)" stroke-width="0.6" opacity="0.6"/>
<circle cx="379.6" cy="340.6" r="1.8" fill="rgb(200,170,184)" stroke="rgb(135,98,140)" stroke-width="0.6" opacity="0.6"/>
<circle cx="335.1" cy="383.7" r="1.7" fill="rgb(200,170,184)" stroke="rgb(135,98,140)" stroke-width="0.6" opacity="0.6"/>
<circle cx="362.8" cy="426.0" r="1.9" fill="rgb(200,170,184)" stroke="rgb(135,98,140)" stroke-width="0.6" opacity="0.6"/>
<circle cx="355.3" cy="350.7" r="1.7" fill="rgb(200,170,184)" stroke="rgb(135,98,140)" stroke-width="0.6" opacity="0.6"/>
<circle cx="377.8" cy="350.1" r="2.3" fill="rgb(200,170,184)" stroke="rgb(135,98,140)" stroke-width="0.6" opacity="0.6"/>
<circle cx="397.7" cy="408.2" r="1.8" fill="rgb(200,170,184)" stroke="rgb(135,98,140)" stroke-width="0.6" opacity="0.6"/>
<circle cx="379.7" cy="398.9" r="2.2" fill="rgb(200,170,184)" stroke="rgb(135,98,140)" stroke-width="0.6" opacity="0.6"/>
<circle cx="303.4" cy="407.9" r="2.4" fill="rgb(200,170,184)" stroke="rgb(135,98,140)" stroke-width="0.6" opacity="0.6"/>
<circle cx="379.1" cy="388.3" r="1.6" fill="rgb(200,170,184)" stroke="rgb(135,98,140)" stroke-width="0.6" opacity="0.6"/>
<circle cx="345.9" cy="371.7" r="2.1" fill="rgb(200,170,184)" stroke="rgb(135,98,140)" stroke-width="0.6" opacity="0.6"/>
<circle cx="380.2" cy="391.0" r="1.7" fill="rgb(200,170,184)" stroke="rgb(135,98,140)" stroke-width="0.6" opacity="0.6"/>
<circle cx="374.1" cy="396.8" r="1.7" fill="rgb(200,170,184)" stroke="rgb(135,98,140)" stroke-width="0.6" opacity="0.6"/>
<circle cx="280.3" cy="369.8" r="2.1" fill="rgb(200,170,184)" stroke="rgb(135,98,140)" stroke-width="0.6" opacity="0.6"/>
<circle cx="365.1" cy="389.9" r="2.1" fill="rgb(200,170,184)" stroke="rgb(135,98,140)" stroke-width="0.6" opacity="0.6"/>
<circle cx="339.1" cy="368.1" r="1.7" fill="rgb(200,170,184)" stroke="rgb(135,98,140)" stroke-width="0.6" opacity="0.6"/>
<circle cx="394.3" cy="388.9" r="2.2" fill="rgb(200,170,184)" stroke="rgb(135,98,140)" stroke-width="0.6" opacity="0.6"/>
<circle cx="320.8" cy="363.9" r="1.8" fill="rgb(200,170,184)" stroke="rgb(135,98,140)" stroke-width="0.6" opacity="0.6"/>
<circle cx="347.9" cy="362.2" r="2.2" fill="rgb(200,170,184)" stroke="rgb(135,98,140)" stroke-width="0.6" opacity="0.6"/>
<circle cx="319.9" cy="370.0" r="1.9" fill="rgb(200,170,184)" stroke="rgb(135,98,140)" stroke-width="0.6" opacity="0.6"/>
<circle cx="354.7" cy="409.5" r="1.8" fill="rgb(200,170,184)" stroke="rgb(135,98,140)" stroke-width="0.6" opacity="0.6"/>
<circle cx="411.5" cy="350.1" r="1.7" fill="rgb(200,170,184)" stroke="rgb(135,98,140)" stroke-width="0.6" opacity="0.6"/>
<circle cx="272.5" cy="350.1" r="2.2" fill="rgb(200,170,184)" stroke="rgb(135,98,140)" stroke-width="0.6" opacity="0.6"/>
<circle cx="389.3" cy="356.6" r="1.7" fill="rgb(200,170,184)" stroke="rgb(135,98,140)" stroke-width="0.6" opacity="0.6"/>
<circle cx="331.5" cy="406.9" r="2.2" fill="rgb(200,170,184)" stroke="rgb(135,98,140)" stroke-width="0.6" opacity="0.6"/>
<circle cx="393.3" cy="393.3" r="1.6" fill="rgb(200,170,184)" stroke="rgb(135,98,140)" stroke-width="0.6" opacity="0.6"/>
<circle cx="328.1" cy="357.4" r="2.0" fill="rgb(200,170,184)" stroke="rgb(135,98,140)" stroke-width="0.6" opacity="0.6"/>
<circle cx="359.7" cy="358.2" r="1.7" fill="rgb(200,170,184)" stroke="rgb(135,98,140)" stroke-width="0.6" opacity="0.6"/>
<circle cx="399.4" cy="342.7" r="2.2" fill="rgb(200,170,184)" stroke="rgb(135,98,140)" stroke-width="0.6" opacity="0.6"/>
<circle cx="325.3" cy="389.7" r="2.0" fill="rgb(200,170,184)" stroke="rgb(135,98,140)" stroke-width="0.6" opacity="0.6"/>
<circle cx="381.7" cy="366.9" r="2.3" fill="rgb(200,170,184)" stroke="rgb(135,98,140)" stroke-width="0.6" opacity="0.6"/>
<circle cx="344.0" cy="394.1" r="2.2" fill="rgb(200,170,184)" stroke="rgb(135,98,140)" stroke-width="0.6" opacity="0.6"/>
<circle cx="377.1" cy="384.3" r="2.0" fill="rgb(200,170,184)" stroke="rgb(135,98,140)" stroke-width="0.6" opacity="0.6"/>
<circle cx="339.7" cy="357.4" r="2.0" fill="rgb(200,170,184)" stroke="rgb(135,98,140)" stroke-width="0.6" opacity="0.6"/>
<circle cx="260.9" cy="385.0" r="2.1" fill="rgb(200,170,184)" stroke="rgb(135,98,140)" stroke-width="0.6" opacity="0.6"/>
<circle cx="336.6" cy="390.9" r="2.4" fill="rgb(200,170,184)" stroke="rgb(135,98,140)" stroke-width="0.6" opacity="0.6"/>
<circle cx="401.4" cy="396.1" r="1.5" fill="rgb(200,170,184)" stroke="rgb(135,98,140)" stroke-width="0.6" opacity="0.6"/>
<circle cx="320.9" cy="361.0" r="1.6" fill="rgb(200,170,184)" stroke="rgb(135,98,140)" stroke-width="0.6" opacity="0.6"/>
<circle cx="354.2" cy="423.7" r="1.8" fill="rgb(200,170,184)" stroke="rgb(135,98,140)" stroke-width="0.6" opacity="0.6"/>
<circle cx="365.8" cy="423.4" r="2.1" fill="rgb(200,170,184)" stroke="rgb(135,98,140)" stroke-width="0.6" opacity="0.6"/>
<circle cx="391.6" cy="370.9" r="2.2" fill="rgb(200,170,184)" stroke="rgb(135,98,140)" stroke-width="0.6" opacity="0.6"/>
<circle cx="335.3" cy="408.1" r="1.9" fill="rgb(200,170,184)" stroke="rgb(135,98,140)" stroke-width="0.6" opacity="0.6"/>
<circle cx="274.3" cy="343.8" r="1.6" fill="rgb(200,170,184)" stroke="rgb(135,98,140)" stroke-width="0.6" opacity="0.6"/>
<circle cx="291.3" cy="354.5" r="1.9" fill="rgb(200,170,184)" stroke="rgb(135,98,140)" stroke-width="0.6" opacity="0.6"/>
<circle cx="384.1" cy="388.4" r="1.9" fill="rgb(200,170,184)" stroke="rgb(135,98,140)" stroke-width="0.6" opacity="0.6"/>
<circle cx="374.8" cy="367.4" r="1.9" fill="rgb(200,170,184)" stroke="rgb(135,98,140)" stroke-width="0.6" opacity="0.6"/>
<circle cx="394.8" cy="376.1" r="1.7" fill="rgb(200,170,184)" stroke="rgb(135,98,140)" stroke-width="0.6" opacity="0.6"/>
<circle cx="322.2" cy="373.4" r="2.0" fill="rgb(200,170,184)" stroke="rgb(135,98,140)" stroke-width="0.6" opacity="0.6"/>
<circle cx="364.9" cy="360.1" r="1.5" fill="rgb(200,170,184)" stroke="rgb(135,98,140)" stroke-width="0.6" opacity="0.6"/>
<circle cx="292.9" cy="410.5" r="1.6" fill="rgb(200,170,184)" stroke="rgb(135,98,140)" stroke-width="0.6" opacity="0.6"/>
<circle cx="339.6" cy="357.6" r="1.7" fill="rgb(200,170,184)" stroke="rgb(135,98,140)" stroke-width="0.6" opacity="0.6"/>
<circle cx="285.8" cy="376.3" r="1.7" fill="rgb(200,170,184)" stroke="rgb(135,98,140)" stroke-width="0.6" opacity="0.6"/>
<circle cx="259.1" cy="349.9" r="1.7" fill="rgb(200,170,184)" stroke="rgb(135,98,140)" stroke-width="0.6" opacity="0.6"/>
<circle cx="258.2" cy="380.3" r="1.9" fill="rgb(200,170,184)" stroke="rgb(135,98,140)" stroke-width="0.6" opacity="0.6"/>
<circle cx="384.8" cy="344.6" r="1.9" fill="rgb(200,170,184)" stroke="rgb(135,98,140)" stroke-width="0.6" opacity="0.6"/>
<circle cx="271.5" cy="382.7" r="1.6" fill="rgb(200,170,184)" stroke="rgb(135,98,140)" stroke-width="0.6" opacity="0.6"/>
<circle cx="369.8" cy="371.2" r="1.6" fill="rgb(200,170,184)" stroke="rgb(135,98,140)" stroke-width="0.6" opacity="0.6"/>
<circle cx="305.2" cy="410.9" r="1.9" fill="rgb(200,170,184)" stroke="rgb(135,98,140)" stroke-width="0.6" opacity="0.6"/>
<circle cx="300.5" cy="363.9" r="2.2" fill="rgb(200,170,184)" stroke="rgb(135,98,140)" stroke-width="0.6" opacity="0.6"/>
<circle cx="371.0" cy="371.0" r="1.6" fill="rgb(200,170,184)" stroke="rgb(135,98,140)" stroke-width="0.6" opacity="0.6"/>
<circle cx="259.6" cy="348.1" r="1.7" fill="rgb(200,170,184)" stroke="rgb(135,98,140)" stroke-width="0.6" opacity="0.6"/>
<circle cx="260.8" cy="344.9" r="2.1" fill="rgb(200,170,184)" stroke="rgb(135,98,140)" stroke-width="0.6" opacity="0.6"/>
<circle cx="310.7" cy="394.6" r="2.4" fill="rgb(200,170,184)" stroke="rgb(135,98,140)" stroke-width="0.6" opacity="0.6"/>
<circle cx="270.3" cy="366.4" r="2.3" fill="rgb(200,170,184)" stroke="rgb(135,98,140)" stroke-width="0.6" opacity="0.6"/>
<circle cx="275.3" cy="375.1" r="1.8" fill="rgb(200,170,184)" stroke="rgb(135,98,140)" stroke-width="0.6" opacity="0.6"/>
<circle cx="286.5" cy="406.6" r="2.2" fill="rgb(200,170,184)" stroke="rgb(135,98,140)" stroke-width="0.6" opacity="0.6"/>
<circle cx="391.1" cy="311.9" r="5.3" fill="rgb(190,156,164)" stroke="rgb(140,100,135)" stroke-width="0.9" opacity="0.45"/>
<circle cx="331.1" cy="301.7" r="4.0" fill="rgb(190,156,164)" stroke="rgb(140,100,135)" stroke-width="0.9" opacity="0.45"/>
<circle cx="384.0" cy="306.6" r="4.0" fill="rgb(190,156,164)" stroke="rgb(140,100,135)" stroke-width="0.9" opacity="0.45"/>
<circle cx="306.6" cy="324.3" r="4.7" fill="rgb(190,156,164)" stroke="rgb(140,100,135)" stroke-width="0.9" opacity="0.45"/>
<circle cx="375.2" cy="299.6" r="4.5" fill="rgb(190,156,164)" stroke="rgb(140,100,135)" stroke-width="0.9" opacity="0.45"/>
<circle cx="304.5" cy="323.6" r="3.5" fill="rgb(190,156,164)" stroke="rgb(140,100,135)" stroke-width="0.9" opacity="0.45"/>
<circle cx="344.3" cy="327.1" r="4.9" fill="rgb(190,156,164)" stroke="rgb(140,100,135)" stroke-width="0.9" opacity="0.45"/>
<circle cx="297.3" cy="288.6" r="5.2" fill="rgb(190,156,164)" stroke="rgb(140,100,135)" stroke-width="0.9" opacity="0.45"/>
<circle cx="395.8" cy="304.3" r="5.3" fill="rgb(190,156,164)" stroke="rgb(140,100,135)" stroke-width="0.9" opacity="0.45"/>
<circle cx="378.1" cy="295.7" r="4.2" fill="rgb(190,156,164)" stroke="rgb(140,100,135)" stroke-width="0.9" opacity="0.45"/>
<circle cx="294.2" cy="300.6" r="5.4" fill="rgb(190,156,164)" stroke="rgb(140,100,135)" stroke-width="0.9" opacity="0.45"/>
<circle cx="298.3" cy="313.1" r="3.7" fill="rgb(190,156,164)" stroke="rgb(140,100,135)" stroke-width="0.9" opacity="0.45"/>
<circle cx="295.3" cy="319.0" r="4.0" fill="rgb(190,156,164)" stroke="rgb(140,100,135)" stroke-width="0.9" opacity="0.45"/>
<circle cx="366.9" cy="314.3" r="3.5" fill="rgb(190,156,164)" stroke="rgb(140,100,135)" stroke-width="0.9" opacity="0.45"/>
<circle cx="313.0" cy="312.6" r="4.3" fill="rgb(190,156,164)" stroke="rgb(140,100,135)" stroke-width="0.9" opacity="0.45"/>
<circle cx="384.2" cy="315.7" r="5.1" fill="rgb(190,156,164)" stroke="rgb(140,100,135)" stroke-width="0.9" opacity="0.45"/>
<circle cx="353.0" cy="284.9" r="3.9" fill="rgb(190,156,164)" stroke="rgb(140,100,135)" stroke-width="0.9" opacity="0.45"/>
<circle cx="299.3" cy="272.8" r="5.4" fill="rgb(190,156,164)" stroke="rgb(140,100,135)" stroke-width="0.9" opacity="0.45"/>
<circle cx="310.3" cy="337.1" r="3.7" fill="rgb(190,156,164)" stroke="rgb(140,100,135)" stroke-width="0.9" opacity="0.45"/>
<circle cx="344.1" cy="287.5" r="5.2" fill="rgb(190,156,164)" stroke="rgb(140,100,135)" stroke-width="0.9" opacity="0.45"/>
<circle cx="363.2" cy="318.5" r="5.0" fill="rgb(190,156,164)" stroke="rgb(140,100,135)" stroke-width="0.9" opacity="0.45"/>
<circle cx="395.7" cy="296.6" r="4.7" fill="rgb(190,156,164)" stroke="rgb(140,100,135)" stroke-width="0.9" opacity="0.45"/>
<circle cx="341.6" cy="279.2" r="5.2" fill="rgb(190,156,164)" stroke="rgb(140,100,135)" stroke-width="0.9" opacity="0.45"/>
<circle cx="360.5" cy="331.3" r="3.9" fill="rgb(190,156,164)" stroke="rgb(140,100,135)" stroke-width="0.9" opacity="0.45"/>
<circle cx="353.5" cy="305.3" r="5.0" fill="rgb(190,156,164)" stroke="rgb(140,100,135)" stroke-width="0.9" opacity="0.45"/>
<circle cx="294.8" cy="296.6" r="4.5" fill="rgb(190,156,164)" stroke="rgb(140,100,135)" stroke-width="0.9" opacity="0.45"/>
<circle cx="294.1" cy="311.9" r="5.0" fill="rgb(190,156,164)" stroke="rgb(140,100,135)" stroke-width="0.9" opacity="0.45"/>
<circle cx="338.7" cy="319.0" r="4.7" fill="rgb(190,156,164)" stroke="rgb(140,100,135)" stroke-width="0.9" opacity="0.45"/>
<circle cx="312.2" cy="296.9" r="5.5" fill="rgb(190,156,164)" stroke="rgb(140,100,135)" stroke-width="0.9" opacity="0.45"/>
<circle cx="327.6" cy="302.9" r="3.7" fill="rgb(190,156,164)" stroke="rgb(140,100,135)" stroke-width="0.9" opacity="0.45"/>
<circle cx="312.7" cy="283.2" r="5.4" fill="rgb(190,156,164)" stroke="rgb(140,100,135)" stroke-width="0.9" opacity="0.45"/>
<circle cx="403.3" cy="310.6" r="4.3" fill="rgb(190,156,164)" stroke="rgb(140,100,135)" stroke-width="0.9" opacity="0.45"/>
<circle cx="405.6" cy="306.8" r="5.0" fill="rgb(190,156,164)" stroke="rgb(140,100,135)" stroke-width="0.9" opacity="0.45"/>
<circle cx="336.7" cy="344.8" r="5.3" fill="rgb(190,156,164)" stroke="rgb(140,100,135)" stroke-width="0.9" opacity="0.45"/>
<circle cx="322.1" cy="340.1" r="3.9" fill="rgb(190,156,164)" stroke="rgb(140,100,135)" stroke-width="0.9" opacity="0.45"/>
<circle cx="297.2" cy="324.5" r="4.1" fill="rgb(190,156,164)" stroke="rgb(140,100,135)" stroke-width="0.9" opacity="0.45"/>
<circle cx="351.0" cy="318.3" r="3.6" fill="rgb(190,156,164)" stroke="rgb(140,100,135)" stroke-width="0.9" opacity="0.45"/>
<circle cx="379.6" cy="291.4" r="4.4" fill="rgb(190,156,164)" stroke="rgb(140,100,135)" stroke-width="0.9" opacity="0.45"/>
<circle cx="328.8" cy="325.9" r="5.0" fill="rgb(190,156,164)" stroke="rgb(140,100,135)" stroke-width="0.9" opacity="0.45"/>
<circle cx="321.5" cy="278.6" r="4.1" fill="rgb(190,156,164)" stroke="rgb(140,100,135)" stroke-width="0.9" opacity="0.45"/>
<circle cx="337.2" cy="276.7" r="3.8" fill="rgb(190,156,164)" stroke="rgb(140,100,135)" stroke-width="0.9" opacity="0.45"/>
<circle cx="381.9" cy="322.8" r="5.5" fill="rgb(190,156,164)" stroke="rgb(140,100,135)" stroke-width="0.9" opacity="0.45"/>
<circle cx="332.3" cy="282.9" r="4.1" fill="rgb(190,156,164)" stroke="rgb(140,100,135)" stroke-width="0.9" opacity="0.45"/>
<circle cx="343.8" cy="309.9" r="4.6" fill="rgb(190,156,164)" stroke="rgb(140,100,135)" stroke-width="0.9" opacity="0.45"/>
<circle cx="330.7" cy="334.1" r="4.1" fill="rgb(190,156,164)" stroke="rgb(140,100,135)" stroke-width="0.9" opacity="0.45"/>
<circle cx="343.8" cy="336.6" r="5.1" fill="rgb(190,156,164)" stroke="rgb(140,100,135)" stroke-width="0.9" opacity="0.45"/>
<circle cx="322.8" cy="289.0" r="5.1" fill="rgb(190,156,164)" stroke="rgb(140,100,135)" stroke-width="0.9" opacity="0.45"/>
<circle cx="352.4" cy="310.7" r="3.8" fill="rgb(190,156,164)" stroke="rgb(140,100,135)" stroke-width="0.9" opacity="0.45"/>
<circle cx="291.4" cy="286.1" r="5.0" fill="rgb(190,156,164)" stroke="rgb(140,100,135)" stroke-width="0.9" opacity="0.45"/>
<circle cx="344.1" cy="343.5" r="5.1" fill="rgb(190,156,164)" stroke="rgb(140,100,135)" stroke-width="0.9" opacity="0.45"/>
<circle cx="409.4" cy="273.6" r="3.9" fill="rgb(190,156,164)" stroke="rgb(140,100,135)" stroke-width="0.9" opacity="0.45"/>
<circle cx="286.7" cy="303.0" r="4.2" fill="rgb(190,156,164)" stroke="rgb(140,100,135)" stroke-width="0.9" opacity="0.45"/>
<circle cx="291.5" cy="311.4" r="3.7" fill="rgb(190,156,164)" stroke="rgb(140,100,135)" stroke-width="0.9" opacity="0.45"/>
<circle cx="324.6" cy="289.3" r="5.1" fill="rgb(190,156,164)" stroke="rgb(140,100,135)" stroke-width="0.9" opacity="0.45"/>
<circle cx="338.1" cy="290.3" r="3.6" fill="rgb(190,156,164)" stroke="rgb(140,100,135)" stroke-width="0.9" opacity="0.45"/>
<circle cx="70.1" cy="311.4" r="5.2" fill="rgb(186,150,152)" stroke="rgb(135,95,130)" stroke-width="0.9" opacity="0.35"/>
<circle cx="137.8" cy="323.4" r="4.1" fill="rgb(186,150,152)" stroke="rgb(135,95,130)" stroke-width="0.9" opacity="0.35"/>
<circle cx="29.0" cy="320.0" r="5.5" fill="rgb(186,150,152)" stroke="rgb(135,95,130)" stroke-width="0.9" opacity="0.35"/>
<circle cx="81.2" cy="324.8" r="4.9" fill="rgb(186,150,152)" stroke="rgb(135,95,130)" stroke-width="0.9" opacity="0.35"/>
<circle cx="49.1" cy="281.1" r="3.5" fill="rgb(186,150,152)" stroke="rgb(135,95,130)" stroke-width="0.9" opacity="0.35"/>
<circle cx="100.0" cy="329.2" r="5.8" fill="rgb(186,150,152)" stroke="rgb(135,95,130)" stroke-width="0.9" opacity="0.35"/>
<circle cx="75.4" cy="313.9" r="5.8" fill="rgb(186,150,152)" stroke="rgb(135,95,130)" stroke-width="0.9" opacity="0.35"/>
<circle cx="124.0" cy="309.8" r="4.5" fill="rgb(186,150,152)" stroke="rgb(135,95,130)" stroke-width="0.9" opacity="0.35"/>
<circle cx="82.6" cy="281.3" r="4.0" fill="rgb(186,150,152)" stroke="rgb(135,95,130)" stroke-width="0.9" opacity="0.35"/>
<circle cx="105.7" cy="335.5" r="4.9" fill="rgb(186,150,152)" stroke="rgb(135,95,130)" stroke-width="0.9" opacity="0.35"/>
<circle cx="67.1" cy="293.2" r="4.6" fill="rgb(186,150,152)" stroke="rgb(135,95,130)" stroke-width="0.9" opacity="0.35"/>
<circle cx="122.4" cy="299.9" r="5.9" fill="rgb(186,150,152)" stroke="rgb(135,95,130)" stroke-width="0.9" opacity="0.35"/>
<circle cx="31.7" cy="290.8" r="4.8" fill="rgb(186,150,152)" stroke="rgb(135,95,130)" stroke-width="0.9" opacity="0.35"/>
<circle cx="67.7" cy="326.2" r="5.6" fill="rgb(186,150,152)" stroke="rgb(135,95,130)" stroke-width="0.9" opacity="0.35"/>
<circle cx="140.4" cy="310.4" r="3.6" fill="rgb(186,150,152)" stroke="rgb(135,95,130)" stroke-width="0.9" opacity="0.35"/>
<circle cx="90.4" cy="306.3" r="4.7" fill="rgb(186,150,152)" stroke="rgb(135,95,130)" stroke-width="0.9" opacity="0.35"/>
<circle cx="49.2" cy="316.8" r="5.8" fill="rgb(186,150,152)" stroke="rgb(135,95,130)" stroke-width="0.9" opacity="0.35"/>
<circle cx="24.3" cy="314.1" r="4.4" fill="rgb(186,150,152)" stroke="rgb(135,95,130)" stroke-width="0.9" opacity="0.35"/>
<circle cx="82.1" cy="329.1" r="5.9" fill="rgb(186,150,152)" stroke="rgb(135,95,130)" stroke-width="0.9" opacity="0.35"/>
<circle cx="100.1" cy="282.9" r="5.8" fill="rgb(186,150,152)" stroke="rgb(135,95,130)" stroke-width="0.9" opacity="0.35"/>
<circle cx="35.4" cy="295.3" r="5.6" fill="rgb(186,150,152)" stroke="rgb(135,95,130)" stroke-width="0.9" opacity="0.35"/>
<circle cx="54.3" cy="287.9" r="5.9" fill="rgb(186,150,152)" stroke="rgb(135,95,130)" stroke-width="0.9" opacity="0.35"/>
<circle cx="142.1" cy="290.9" r="4.5" fill="rgb(186,150,152)" stroke="rgb(135,95,130)" stroke-width="0.9" opacity="0.35"/>
<circle cx="49.5" cy="278.7" r="4.1" fill="rgb(186,150,152)" stroke="rgb(135,95,130)" stroke-width="0.9" opacity="0.35"/>
<circle cx="147.2" cy="275.2" r="4.1" fill="rgb(186,150,152)" stroke="rgb(135,95,130)" stroke-width="0.9" opacity="0.35"/>
<circle cx="38.0" cy="275.2" r="4.8" fill="rgb(186,150,152)" stroke="rgb(135,95,130)" stroke-width="0.9" opacity="0.35"/>
<circle cx="114.0" cy="325.3" r="5.1" fill="rgb(186,150,152)" stroke="rgb(135,95,130)" stroke-width="0.9" opacity="0.35"/>
<circle cx="124.5" cy="270.4" r="4.2" fill="rgb(186,150,152)" stroke="rgb(135,95,130)" stroke-width="0.9" opacity="0.35"/>
<circle cx="144.6" cy="274.6" r="4.2" fill="rgb(186,150,152)" stroke="rgb(135,95,130)" stroke-width="0.9" opacity="0.35"/>
<circle cx="77.6" cy="287.7" r="4.9" fill="rgb(186,150,152)" stroke="rgb(135,95,130)" stroke-width="0.9" opacity="0.35"/>
<circle cx="16.6" cy="285.6" r="5.9" fill="rgb(186,150,152)" stroke="rgb(135,95,130)" stroke-width="0.9" opacity="0.35"/>
<circle cx="30.2" cy="329.8" r="3.9" fill="rgb(186,150,152)" stroke="rgb(135,95,130)" stroke-width="0.9" opacity="0.35"/>
<circle cx="149.0" cy="314.5" r="5.1" fill="rgb(186,150,152)" stroke="rgb(135,95,130)" stroke-width="0.9" opacity="0.35"/>
<circle cx="29.9" cy="273.6" r="5.4" fill="rgb(186,150,152)" stroke="rgb(135,95,130)" stroke-width="0.9" opacity="0.35"/>
<circle cx="34.7" cy="282.5" r="5.6" fill="rgb(186,150,152)" stroke="rgb(135,95,130)" stroke-width="0.9" opacity="0.35"/>
<circle cx="132.5" cy="273.2" r="5.9" fill="rgb(186,150,152)" stroke="rgb(135,95,130)" stroke-width="0.9" opacity="0.35"/>
<circle cx="84.9" cy="295.2" r="3.8" fill="rgb(186,150,152)" stroke="rgb(135,95,130)" stroke-width="0.9" opacity="0.35"/>
<circle cx="64.6" cy="335.2" r="4.2" fill="rgb(186,150,152)" stroke="rgb(135,95,130)" stroke-width="0.9" opacity="0.35"/>
<circle cx="28.4" cy="279.6" r="3.8" fill="rgb(186,150,152)" stroke="rgb(135,95,130)" stroke-width="0.9" opacity="0.35"/>
<circle cx="59.3" cy="330.4" r="3.7" fill="rgb(186,150,152)" stroke="rgb(135,95,130)" stroke-width="0.9" opacity="0.35"/>
<circle cx="36.9" cy="332.0" r="6.0" fill="rgb(186,150,152)" stroke="rgb(135,95,130)" stroke-width="0.9" opacity="0.35"/>
<circle cx="147.2" cy="286.2" r="4.4" fill="rgb(186,150,152)" stroke="rgb(135,95,130)" stroke-width="0.9" opacity="0.35"/>
<circle cx="143.1" cy="302.0" r="5.3" fill="rgb(186,150,152)" stroke="rgb(135,95,130)" stroke-width="0.9" opacity="0.35"/>
<circle cx="53.9" cy="271.4" r="4.4" fill="rgb(186,150,152)" stroke="rgb(135,95,130)" stroke-width="0.9" opacity="0.35"/>
<circle cx="114.7" cy="321.6" r="4.9" fill="rgb(186,150,152)" stroke="rgb(135,95,130)" stroke-width="0.9" opacity="0.35"/>
<circle cx="75.0" cy="305.5" r="4.6" fill="rgb(186,150,152)" stroke="rgb(135,95,130)" stroke-width="0.9" opacity="0.35"/>
<circle cx="84.8" cy="325.0" r="4.0" fill="rgb(186,150,152)" stroke="rgb(135,95,130)" stroke-width="0.9" opacity="0.35"/>
<circle cx="93.2" cy="331.6" r="5.6" fill="rgb(186,150,152)" stroke="rgb(135,95,130)" stroke-width="0.9" opacity="0.35"/>
<circle cx="35.1" cy="333.6" r="5.6" fill="rgb(186,150,152)" stroke="rgb(135,95,130)" stroke-width="0.9" opacity="0.35"/>
<circle cx="33.5" cy="287.5" r="4.0" fill="rgb(186,150,152)" stroke="rgb(135,95,130)" stroke-width="0.9" opacity="0.35"/>
<circle cx="17.4" cy="334.6" r="4.5" fill="rgb(186,150,152)" stroke="rgb(135,95,130)" stroke-width="0.9" opacity="0.35"/>
<circle cx="132.2" cy="277.6" r="3.5" fill="rgb(186,150,152)" stroke="rgb(135,95,130)" stroke-width="0.9" opacity="0.35"/>
<circle cx="131.8" cy="322.4" r="6.0" fill="rgb(186,150,152)" stroke="rgb(135,95,130)" stroke-width="0.9" opacity="0.35"/>
<circle cx="106.0" cy="304.7" r="5.4" fill="rgb(186,150,152)" stroke="rgb(135,95,130)" stroke-width="0.9" opacity="0.35"/>
<circle cx="23.0" cy="305.7" r="4.6" fill="rgb(186,150,152)" stroke="rgb(135,95,130)" stroke-width="0.9" opacity="0.35"/>
<circle cx="30.5" cy="309.6" r="4.3" fill="rgb(186,150,152)" stroke="rgb(135,95,130)" stroke-width="0.9" opacity="0.35"/>
<circle cx="80.9" cy="294.7" r="4.3" fill="rgb(186,150,152)" stroke="rgb(135,95,130)" stroke-width="0.9" opacity="0.35"/>
<circle cx="60.2" cy="309.7" r="6.0" fill="rgb(186,150,152)" stroke="rgb(135,95,130)" stroke-width="0.9" opacity="0.35"/>
<circle cx="141.1" cy="326.9" r="5.6" fill="rgb(186,150,152)" stroke="rgb(135,95,130)" stroke-width="0.9" opacity="0.35"/>
<circle cx="50.2" cy="334.5" r="4.2" fill="rgb(186,150,152)" stroke="rgb(135,95,130)" stroke-width="0.9" opacity="0.35"/>
<circle cx="27.2" cy="303.1" r="5.3" fill="rgb(186,150,152)" stroke="rgb(135,95,130)" stroke-width="0.9" opacity="0.35"/>
<circle cx="57.7" cy="312.6" r="4.2" fill="rgb(186,150,152)" stroke="rgb(135,95,130)" stroke-width="0.9" opacity="0.35"/>
<circle cx="145.4" cy="299.9" r="4.7" fill="rgb(186,150,152)" stroke="rgb(135,95,130)" stroke-width="0.9" opacity="0.35"/>
<circle cx="84.4" cy="327.7" r="6.0" fill="rgb(186,150,152)" stroke="rgb(135,95,130)" stroke-width="0.9" opacity="0.35"/>
<circle cx="84.0" cy="299.1" r="5.0" fill="rgb(186,150,152)" stroke="rgb(135,95,130)" stroke-width="0.9" opacity="0.35"/>
<circle cx="19.7" cy="298.1" r="5.6" fill="rgb(186,150,152)" stroke="rgb(135,95,130)" stroke-width="0.9" opacity="0.35"/>
<circle cx="118.8" cy="273.9" r="5.6" fill="rgb(186,150,152)" stroke="rgb(135,95,130)" stroke-width="0.9" opacity="0.35"/>
<circle cx="63.8" cy="334.8" r="4.4" fill="rgb(186,150,152)" stroke="rgb(135,95,130)" stroke-width="0.9" opacity="0.35"/>
<circle cx="40.1" cy="306.2" r="5.7" fill="rgb(186,150,152)" stroke="rgb(135,95,130)" stroke-width="0.9" opacity="0.35"/>
<circle cx="70.4" cy="327.3" r="5.3" fill="rgb(186,150,152)" stroke="rgb(135,95,130)" stroke-width="0.9" opacity="0.35"/>
</g>
<g filter="url(#soft2)">
<path d="M265,271 L294,271 L291,285 L287,300 L285,318 L292,326 L300,333 L306,338 L300,340 L290,334 L280,330 L270,331 L262,334 L254,336 L254,296 L258,292 L263,285 L265,278 Z" fill="rgb(218,193,178)"/>
<g stroke="rgb(240,224,194)" fill="none" stroke-linecap="round">
<path d="M270,271 C268,280 262,288 257,296 C255,300 255,305 256,309" stroke-width="6.5"/>
<path d="M290,271 C289,285 286,300 284,314" stroke-width="6"/>
<path d="M257,311 C265,313 275,316 284,318 C280,324 272,330 262,334" stroke-width="5"/>
<path d="M284,318 C290,326 298,333 305,338" stroke-width="2.5"/>
<path d="M277,292 C278,300 278,308 279,314" stroke-width="4"/>
</g>
<path d="M302,336 L318,344 L330,347 L339,347 L348,344 L355,341.5 L371,332.3 L387,323 L403.5,315 L412,311 L412,321 L403.5,323 L392,332 L382,338 L371,342.7 L355,349.6 L348,353 L346,360 L344.6,366 L341,360 L338,355.4 L330,351 L318,347 L302,339 Z" fill="rgb(244,226,194)"/>
<path d="M347.5,367 C351,375 355,385 358,394 C360,400 362,405 364,410" stroke="rgb(80,45,105)" stroke-width="1.6" fill="none"/>
<path d="M512,396 L503,404 C499,415 497,425 499,438 L512,438 Z" fill="rgb(243,224,192)"/>
<path d="M440,420 C445,428 450,432 455,438 L460,438 C455,430 450,424 444,418 Z" fill="rgb(225,210,190)"/>
<path d="M254,424 C280,427 300,428 320,429" stroke="rgb(215,195,190)" stroke-width="1.2" fill="none"/>
<path d="M396,414 C410,410 420,405 432,400" stroke="rgb(220,200,190)" stroke-width="1.2" fill="none"/>
</g>
<rect x="254" y="271" width="258" height="167" filter="url(#nz2)" style="mix-blend-mode:overlay" opacity="0.8"/>
</g>
<g clip-path="url(#cLi)" style="isolation:isolate">
<rect x="151" y="271" width="96" height="103" fill="rgb(178,142,160)"/>
<g filter="url(#soft)">
<path d="M151,271 L200,271 C195,290 190,300 185,305 C175,300 165,295 151,292 Z" fill="rgb(190,154,160)"/>
<path d="M151,340 C170,338 190,345 247,350 L247,374 L151,374 Z" fill="rgb(186,150,160)"/>
<ellipse cx="205" cy="285" rx="12" ry="9" fill="rgb(150,112,150)" opacity="0.8"/>
<ellipse cx="236" cy="340" rx="9" ry="16" fill="rgb(150,112,150)" opacity="0.8"/>
<ellipse cx="160" cy="310" rx="7" ry="12" fill="rgb(150,112,150)" opacity="0.8"/>
<ellipse cx="222" cy="300" rx="8" ry="7" fill="rgb(150,112,150)" opacity="0.8"/>
<ellipse cx="190" cy="330" rx="8" ry="8" fill="rgb(150,112,150)" opacity="0.8"/>
</g>
<g filter="url(#soft2)">
<path d="M167.4,339.3 L167.7,344.0" stroke="rgb(110,75,125)" stroke-width="1.6" stroke-linecap="round" opacity="0.55"/>
<path d="M226.5,351.4 L226.5,355.7" stroke="rgb(110,75,125)" stroke-width="1.6" stroke-linecap="round" opacity="0.55"/>
<path d="M150.1,309.0 L154.5,310.0" stroke="rgb(110,75,125)" stroke-width="2.0" stroke-linecap="round" opacity="0.55"/>
<path d="M175.2,295.5 L172.5,295.5" stroke="rgb(110,75,125)" stroke-width="2.0" stroke-linecap="round" opacity="0.55"/>
<path d="M233.6,333.1 L234.9,335.3" stroke="rgb(110,75,125)" stroke-width="1.8" stroke-linecap="round" opacity="0.55"/>
<path d="M161.2,367.3 L164.6,369.0" stroke="rgb(110,75,125)" stroke-width="2.1" stroke-linecap="round" opacity="0.55"/>
<path d="M164.1,363.7 L163.4,367.7" stroke="rgb(110,75,125)" stroke-width="1.7" stroke-linecap="round" opacity="0.55"/>
<path d="M198.8,290.3 L196.4,291.4" stroke="rgb(110,75,125)" stroke-width="1.6" stroke-linecap="round" opacity="0.55"/>
<path d="M228.1,292.1 L222.6,294.0" stroke="rgb(110,75,125)" stroke-width="2.0" stroke-linecap="round" opacity="0.55"/>
<path d="M221.4,329.7 L226.0,331.6" stroke="rgb(110,75,125)" stroke-width="1.8" stroke-linecap="round" opacity="0.55"/>
<path d="M232.4,291.3 L227.1,293.3" stroke="rgb(110,75,125)" stroke-width="1.7" stroke-linecap="round" opacity="0.55"/>
<path d="M188.3,317.6 L184.4,317.6" stroke="rgb(110,75,125)" stroke-width="1.7" stroke-linecap="round" opacity="0.55"/>
<path d="M157.0,281.4 L152.0,281.5" stroke="rgb(110,75,125)" stroke-width="1.8" stroke-linecap="round" opacity="0.55"/>
<path d="M196.2,325.9 L200.2,329.2" stroke="rgb(110,75,125)" stroke-width="1.9" stroke-linecap="round" opacity="0.55"/>
<path d="M203.0,334.1 L205.7,335.7" stroke="rgb(110,75,125)" stroke-width="1.7" stroke-linecap="round" opacity="0.55"/>
<path d="M237.8,305.1 L240.5,308.9" stroke="rgb(110,75,125)" stroke-width="1.5" stroke-linecap="round" opacity="0.55"/>
<path d="M157.2,351.8 L159.2,356.6" stroke="rgb(110,75,125)" stroke-width="1.9" stroke-linecap="round" opacity="0.55"/>
<path d="M214.7,360.0 L216.4,365.6" stroke="rgb(110,75,125)" stroke-width="2.2" stroke-linecap="round" opacity="0.55"/>
<path d="M242.3,328.8 L242.5,334.4" stroke="rgb(110,75,125)" stroke-width="1.7" stroke-linecap="round" opacity="0.55"/>
<path d="M173.7,360.2 L176.7,360.8" stroke="rgb(110,75,125)" stroke-width="2.0" stroke-linecap="round" opacity="0.55"/>
<path d="M222.1,320.4 L227.4,321.2" stroke="rgb(110,75,125)" stroke-width="1.6" stroke-linecap="round" opacity="0.55"/>
<path d="M177.7,314.0 L180.8,314.7" stroke="rgb(110,75,125)" stroke-width="1.7" stroke-linecap="round" opacity="0.55"/>
<path d="M236.4,368.8 L236.7,373.9" stroke="rgb(110,75,125)" stroke-width="1.6" stroke-linecap="round" opacity="0.55"/>
<path d="M239.6,324.9 L244.6,325.3" stroke="rgb(110,75,125)" stroke-width="1.6" stroke-linecap="round" opacity="0.55"/>
<path d="M231.7,349.7 L229.9,355.0" stroke="rgb(110,75,125)" stroke-width="1.7" stroke-linecap="round" opacity="0.55"/>
<path d="M206.8,356.0 L206.4,359.6" stroke="rgb(110,75,125)" stroke-width="1.6" stroke-linecap="round" opacity="0.55"/>
<path d="M226.6,272.7 L221.8,273.4" stroke="rgb(110,75,125)" stroke-width="1.4" stroke-linecap="round" opacity="0.55"/>
<path d="M208.5,334.4 L207.1,339.7" stroke="rgb(110,75,125)" stroke-width="1.6" stroke-linecap="round" opacity="0.55"/>
<path d="M187.5,367.7 L192.7,370.0" stroke="rgb(110,75,125)" stroke-width="1.5" stroke-linecap="round" opacity="0.55"/>
<path d="M159.0,273.7 L162.7,275.4" stroke="rgb(110,75,125)" stroke-width="2.1" stroke-linecap="round" opacity="0.55"/>
<path d="M212.5,282.9 L214.8,286.6" stroke="rgb(110,75,125)" stroke-width="1.8" stroke-linecap="round" opacity="0.55"/>
<path d="M172.1,287.3 L173.2,290.2" stroke="rgb(110,75,125)" stroke-width="2.0" stroke-linecap="round" opacity="0.55"/>
<path d="M206.0,275.7 L201.4,277.6" stroke="rgb(110,75,125)" stroke-width="2.0" stroke-linecap="round" opacity="0.55"/>
<path d="M224.3,272.4 L228.3,273.2" stroke="rgb(110,75,125)" stroke-width="2.0" stroke-linecap="round" opacity="0.55"/>
<path d="M169.5,342.5 L167.5,345.2" stroke="rgb(110,75,125)" stroke-width="1.7" stroke-linecap="round" opacity="0.55"/>
<path d="M157.6,310.7 L154.2,311.8" stroke="rgb(110,75,125)" stroke-width="1.6" stroke-linecap="round" opacity="0.55"/>
<path d="M196.5,326.6 L202.1,328.4" stroke="rgb(110,75,125)" stroke-width="1.9" stroke-linecap="round" opacity="0.55"/>
<path d="M198.1,343.8 L201.4,348.6" stroke="rgb(110,75,125)" stroke-width="2.0" stroke-linecap="round" opacity="0.55"/>
<path d="M202.6,327.9 L200.3,329.4" stroke="rgb(110,75,125)" stroke-width="2.2" stroke-linecap="round" opacity="0.55"/>
<path d="M182.6,303.1 L188.2,305.1" stroke="rgb(110,75,125)" stroke-width="1.5" stroke-linecap="round" opacity="0.55"/>
<path d="M158.5,351.7 L159.3,356.8" stroke="rgb(110,75,125)" stroke-width="1.9" stroke-linecap="round" opacity="0.55"/>
<path d="M154.0,335.1 L153.7,339.1" stroke="rgb(110,75,125)" stroke-width="1.7" stroke-linecap="round" opacity="0.55"/>
<path d="M189.5,293.5 L190.0,296.1" stroke="rgb(110,75,125)" stroke-width="1.6" stroke-linecap="round" opacity="0.55"/>
<path d="M217.8,352.1 L218.5,357.0" stroke="rgb(110,75,125)" stroke-width="1.6" stroke-linecap="round" opacity="0.55"/>
<path d="M190.6,320.9 L185.9,321.4" stroke="rgb(110,75,125)" stroke-width="1.5" stroke-linecap="round" opacity="0.55"/>
<path d="M199.5,320.8 L194.7,322.5" stroke="rgb(110,75,125)" stroke-width="2.0" stroke-linecap="round" opacity="0.55"/>
<path d="M213.1,347.6 L208.7,349.6" stroke="rgb(110,75,125)" stroke-width="2.0" stroke-linecap="round" opacity="0.55"/>
<path d="M215.2,294.1 L217.2,299.4" stroke="rgb(110,75,125)" stroke-width="1.9" stroke-linecap="round" opacity="0.55"/>
<path d="M226.6,369.3 L232.5,369.4" stroke="rgb(110,75,125)" stroke-width="1.7" stroke-linecap="round" opacity="0.55"/>
<path d="M181.6,310.0 L181.1,313.0" stroke="rgb(110,75,125)" stroke-width="1.5" stroke-linecap="round" opacity="0.55"/>
<path d="M180.1,364.8 L180.7,369.8" stroke="rgb(110,75,125)" stroke-width="1.5" stroke-linecap="round" opacity="0.55"/>
<path d="M241.1,341.7 L242.7,344.5" stroke="rgb(110,75,125)" stroke-width="1.9" stroke-linecap="round" opacity="0.55"/>
<path d="M214.5,295.9 L217.6,300.8" stroke="rgb(110,75,125)" stroke-width="1.6" stroke-linecap="round" opacity="0.55"/>
<path d="M229.5,286.1 L233.4,288.9" stroke="rgb(110,75,125)" stroke-width="1.9" stroke-linecap="round" opacity="0.55"/>
<path d="M177.8,307.4 L178.4,313.2" stroke="rgb(110,75,125)" stroke-width="1.7" stroke-linecap="round" opacity="0.55"/>
<path d="M209.5,298.9 L210.6,301.8" stroke="rgb(110,75,125)" stroke-width="1.6" stroke-linecap="round" opacity="0.55"/>
<path d="M170.8,368.3 L168.6,369.8" stroke="rgb(110,75,125)" stroke-width="2.1" stroke-linecap="round" opacity="0.55"/>
<path d="M216.1,273.7 L220.3,274.2" stroke="rgb(110,75,125)" stroke-width="1.9" stroke-linecap="round" opacity="0.55"/>
<path d="M218.0,295.0 L217.7,297.5" stroke="rgb(110,75,125)" stroke-width="1.5" stroke-linecap="round" opacity="0.55"/>
<path d="M179.9,315.3 L182.2,320.4" stroke="rgb(110,75,125)" stroke-width="1.5" stroke-linecap="round" opacity="0.55"/>
<path d="M224.3,354.7 L228.6,355.4" stroke="rgb(110,75,125)" stroke-width="1.6" stroke-linecap="round" opacity="0.55"/>
<path d="M191.2,326.8 L188.5,328.7" stroke="rgb(110,75,125)" stroke-width="2.1" stroke-linecap="round" opacity="0.55"/>
<path d="M239.3,360.0 L238.6,362.5" stroke="rgb(110,75,125)" stroke-width="1.5" stroke-linecap="round" opacity="0.55"/>
<path d="M234.4,346.0 L238.7,348.9" stroke="rgb(110,75,125)" stroke-width="1.4" stroke-linecap="round" opacity="0.55"/>
<path d="M228.4,330.9 L228.8,335.6" stroke="rgb(110,75,125)" stroke-width="2.0" stroke-linecap="round" opacity="0.55"/>
<path d="M182.7,297.7 L184.9,300.7" stroke="rgb(110,75,125)" stroke-width="1.9" stroke-linecap="round" opacity="0.55"/>
<path d="M235.7,277.8 L235.6,280.5" stroke="rgb(110,75,125)" stroke-width="1.9" stroke-linecap="round" opacity="0.55"/>
<path d="M168.5,299.1 L171.2,299.4" stroke="rgb(110,75,125)" stroke-width="1.8" stroke-linecap="round" opacity="0.55"/>
<path d="M214.5,337.5 L217.4,338.5" stroke="rgb(110,75,125)" stroke-width="2.1" stroke-linecap="round" opacity="0.55"/>
<path d="M204.2,311.4 L201.0,315.1" stroke="rgb(110,75,125)" stroke-width="1.8" stroke-linecap="round" opacity="0.55"/>
<path d="M157.8,355.3 L161.0,355.8" stroke="rgb(110,75,125)" stroke-width="1.7" stroke-linecap="round" opacity="0.55"/>
<path d="M203.0,334.2 L201.1,336.7" stroke="rgb(110,75,125)" stroke-width="1.8" stroke-linecap="round" opacity="0.55"/>
<path d="M169.8,357.2 L164.7,358.7" stroke="rgb(110,75,125)" stroke-width="1.9" stroke-linecap="round" opacity="0.55"/>
<path d="M172.7,347.7 L172.1,353.4" stroke="rgb(110,75,125)" stroke-width="2.1" stroke-linecap="round" opacity="0.55"/>
<path d="M246.0,310.8 L240.4,312.0" stroke="rgb(110,75,125)" stroke-width="2.0" stroke-linecap="round" opacity="0.55"/>
<circle cx="153.1" cy="307.5" r="3.7" fill="rgb(208,178,182)" opacity="0.5"/>
<circle cx="209.1" cy="348.3" r="3.8" fill="rgb(208,178,182)" opacity="0.5"/>
<circle cx="167.2" cy="366.0" r="3.6" fill="rgb(208,178,182)" opacity="0.5"/>
<circle cx="234.9" cy="292.9" r="4.5" fill="rgb(208,178,182)" opacity="0.5"/>
<circle cx="204.2" cy="350.3" r="4.0" fill="rgb(208,178,182)" opacity="0.5"/>
<circle cx="235.0" cy="308.6" r="2.7" fill="rgb(208,178,182)" opacity="0.5"/>
<circle cx="190.1" cy="290.0" r="3.6" fill="rgb(208,178,182)" opacity="0.5"/>
<circle cx="228.6" cy="308.6" r="2.8" fill="rgb(208,178,182)" opacity="0.5"/>
<circle cx="154.5" cy="314.7" r="3.7" fill="rgb(208,178,182)" opacity="0.5"/>
<circle cx="154.5" cy="339.2" r="2.9" fill="rgb(208,178,182)" opacity="0.5"/>
<circle cx="162.1" cy="365.7" r="3.5" fill="rgb(208,178,182)" opacity="0.5"/>
<circle cx="236.1" cy="323.9" r="2.7" fill="rgb(208,178,182)" opacity="0.5"/>
<circle cx="174.6" cy="314.9" r="3.8" fill="rgb(208,178,182)" opacity="0.5"/>
<circle cx="224.5" cy="347.9" r="3.8" fill="rgb(208,178,182)" opacity="0.5"/>
<circle cx="175.8" cy="315.4" r="3.3" fill="rgb(208,178,182)" opacity="0.5"/>
<circle cx="198.0" cy="298.8" r="3.6" fill="rgb(208,178,182)" opacity="0.5"/>
<circle cx="195.1" cy="275.6" r="4.1" fill="rgb(208,178,182)" opacity="0.5"/>
<circle cx="207.1" cy="353.1" r="4.0" fill="rgb(208,178,182)" opacity="0.5"/>
<circle cx="220.7" cy="372.3" r="3.3" fill="rgb(208,178,182)" opacity="0.5"/>
<circle cx="189.0" cy="272.4" r="3.8" fill="rgb(208,178,182)" opacity="0.5"/>
<circle cx="206.7" cy="330.2" r="4.5" fill="rgb(208,178,182)" opacity="0.5"/>
<circle cx="170.5" cy="295.0" r="4.0" fill="rgb(208,178,182)" opacity="0.5"/>
<circle cx="228.4" cy="320.8" r="2.6" fill="rgb(208,178,182)" opacity="0.5"/>
<circle cx="186.8" cy="355.5" r="3.5" fill="rgb(208,178,182)" opacity="0.5"/>
<circle cx="195.4" cy="311.3" r="3.8" fill="rgb(208,178,182)" opacity="0.5"/>
</g>
<g filter="url(#soft2)">
<ellipse cx="172.5" cy="321" rx="4.3" ry="13" transform="rotate(20 172.5 321)" fill="rgb(225,215,222)" />
<ellipse cx="172.8" cy="321" rx="2.8" ry="11" transform="rotate(20 172.5 321)" fill="rgb(150,125,150)" />
<ellipse cx="170" cy="327" rx="1.6" ry="2.2" fill="rgb(40,25,45)"/>
<ellipse cx="173" cy="320" rx="1.3" ry="1.6" fill="rgb(60,40,70)"/>
<ellipse cx="168.5" cy="331" rx="1.2" ry="1.4" fill="rgb(50,30,55)"/>
<ellipse cx="175" cy="314" rx="1.3" ry="1.8" fill="rgb(50,30,60)"/>
<ellipse cx="201.7" cy="294.6" rx="2.8" ry="6" fill="rgb(232,224,224)"/>
<ellipse cx="201.7" cy="294.6" rx="1.4" ry="3.6" fill="rgb(90,70,100)"/>
<ellipse cx="204.2" cy="353.8" rx="3.8" ry="6.2" fill="rgb(232,224,224)"/>
<ellipse cx="204.2" cy="353.8" rx="2.4" ry="4.6" fill="rgb(95,75,105)"/>
<ellipse cx="162" cy="357" rx="3.2" ry="8.5" fill="rgb(236,226,200)"/>
<ellipse cx="185" cy="349" rx="2.6" ry="8.5" transform="rotate(15 185 349)" fill="rgb(236,226,200)"/>
<ellipse cx="231" cy="307" rx="2" ry="8" fill="rgb(210,192,190)"/>
<ellipse cx="160" cy="292" rx="1.6" ry="6" fill="rgb(205,185,190)"/>
</g>
<rect x="151" y="271" width="96" height="103" filter="url(#nz3)" style="mix-blend-mode:overlay" opacity="0.8"/>
</g>
<g clip-path="url(#cRi)" style="isolation:isolate">
<rect x="412" y="272" width="98" height="101" fill="rgb(184,148,160)"/>
<g filter="url(#soft)">
<ellipse cx="428" cy="285" rx="18" ry="12" fill="rgb(198,160,166)"/>
<circle cx="437" cy="330" r="6" fill="rgb(205,172,172)"/>
<circle cx="448" cy="340" r="5" fill="rgb(205,172,172)"/>
<circle cx="470" cy="318" r="5" fill="rgb(205,172,172)"/>
<circle cx="480" cy="330" r="6" fill="rgb(205,172,172)"/>
<circle cx="472" cy="345" r="6" fill="rgb(205,172,172)"/>
<circle cx="490" cy="355" r="6" fill="rgb(205,172,172)"/>
<circle cx="465" cy="360" r="5" fill="rgb(205,172,172)"/>
<circle cx="455" cy="300" r="5" fill="rgb(205,172,172)"/>
<circle cx="478" cy="302" r="4" fill="rgb(205,172,172)"/>
<circle cx="500" cy="340" r="5" fill="rgb(205,172,172)"/>
<circle cx="428" cy="350" r="5" fill="rgb(205,172,172)"/>
<circle cx="445" cy="360" r="5" fill="rgb(205,172,172)"/>
</g>
<g filter="url(#soft2)">
<circle cx="432" cy="328" r="4.5" fill="rgb(212,182,182)" stroke="rgb(150,110,140)" stroke-width="0.8" opacity="0.75"/>
<circle cx="444" cy="336" r="4" fill="rgb(212,182,182)" stroke="rgb(150,110,140)" stroke-width="0.8" opacity="0.75"/>
<circle cx="456" cy="322" r="4" fill="rgb(212,182,182)" stroke="rgb(150,110,140)" stroke-width="0.8" opacity="0.75"/>
<circle cx="466" cy="314" r="3.5" fill="rgb(212,182,182)" stroke="rgb(150,110,140)" stroke-width="0.8" opacity="0.75"/>
<circle cx="470" cy="330" r="4.5" fill="rgb(212,182,182)" stroke="rgb(150,110,140)" stroke-width="0.8" opacity="0.75"/>
<circle cx="480" cy="322" r="4" fill="rgb(212,182,182)" stroke="rgb(150,110,140)" stroke-width="0.8" opacity="0.75"/>
<circle cx="476" cy="342" r="4.5" fill="rgb(212,182,182)" stroke="rgb(150,110,140)" stroke-width="0.8" opacity="0.75"/>
<circle cx="488" cy="350" r="4.5" fill="rgb(212,182,182)" stroke="rgb(150,110,140)" stroke-width="0.8" opacity="0.75"/>
<circle cx="462" cy="350" r="4" fill="rgb(212,182,182)" stroke="rgb(150,110,140)" stroke-width="0.8" opacity="0.75"/>
<circle cx="450" cy="352" r="4" fill="rgb(212,182,182)" stroke="rgb(150,110,140)" stroke-width="0.8" opacity="0.75"/>
<circle cx="428" cy="346" r="4" fill="rgb(212,182,182)" stroke="rgb(150,110,140)" stroke-width="0.8" opacity="0.75"/>
<circle cx="440" cy="362" r="4" fill="rgb(212,182,182)" stroke="rgb(150,110,140)" stroke-width="0.8" opacity="0.75"/>
<circle cx="486" cy="336" r="4" fill="rgb(212,182,182)" stroke="rgb(150,110,140)" stroke-width="0.8" opacity="0.75"/>
<circle cx="498" cy="344" r="4" fill="rgb(212,182,182)" stroke="rgb(150,110,140)" stroke-width="0.8" opacity="0.75"/>
<circle cx="472" cy="306" r="3.5" fill="rgb(212,182,182)" stroke="rgb(150,110,140)" stroke-width="0.8" opacity="0.75"/>
<circle cx="458" cy="338" r="4" fill="rgb(212,182,182)" stroke="rgb(150,110,140)" stroke-width="0.8" opacity="0.75"/>
<path d="M454.6,326.0 L458.4,330.6" stroke="rgb(115,78,130)" stroke-width="1.7" stroke-linecap="round" opacity="0.6"/>
<path d="M429.5,321.0 L433.2,326.3" stroke="rgb(115,78,130)" stroke-width="1.4" stroke-linecap="round" opacity="0.6"/>
<path d="M440.3,279.9 L444.7,285.7" stroke="rgb(115,78,130)" stroke-width="1.3" stroke-linecap="round" opacity="0.6"/>
<path d="M504.4,364.9 L508.3,370.2" stroke="rgb(115,78,130)" stroke-width="1.4" stroke-linecap="round" opacity="0.6"/>
<path d="M413.8,323.9 L417.0,326.6" stroke="rgb(115,78,130)" stroke-width="1.5" stroke-linecap="round" opacity="0.6"/>
<path d="M415.2,316.6 L418.4,321.4" stroke="rgb(115,78,130)" stroke-width="1.7" stroke-linecap="round" opacity="0.6"/>
<path d="M455.3,297.4 L458.7,304.6" stroke="rgb(115,78,130)" stroke-width="1.9" stroke-linecap="round" opacity="0.6"/>
<path d="M478.8,302.9 L482.3,306.3" stroke="rgb(115,78,130)" stroke-width="1.3" stroke-linecap="round" opacity="0.6"/>
<path d="M483.5,310.2 L488.6,315.5" stroke="rgb(115,78,130)" stroke-width="2.0" stroke-linecap="round" opacity="0.6"/>
<path d="M492.5,271.9 L494.8,276.2" stroke="rgb(115,78,130)" stroke-width="1.6" stroke-linecap="round" opacity="0.6"/>
<path d="M504.9,310.8 L507.4,314.3" stroke="rgb(115,78,130)" stroke-width="1.8" stroke-linecap="round" opacity="0.6"/>
<path d="M438.0,280.2 L440.7,284.7" stroke="rgb(115,78,130)" stroke-width="1.8" stroke-linecap="round" opacity="0.6"/>
<path d="M423.3,296.6 L426.9,299.2" stroke="rgb(115,78,130)" stroke-width="1.9" stroke-linecap="round" opacity="0.6"/>
<path d="M428.5,326.4 L432.9,330.1" stroke="rgb(115,78,130)" stroke-width="1.8" stroke-linecap="round" opacity="0.6"/>
<path d="M424.9,338.2 L427.7,334.7" stroke="rgb(115,78,130)" stroke-width="1.4" stroke-linecap="round" opacity="0.6"/>
<path d="M437.3,371.2 L441.4,365.2" stroke="rgb(115,78,130)" stroke-width="1.9" stroke-linecap="round" opacity="0.6"/>
<path d="M431.5,309.4 L436.1,315.1" stroke="rgb(115,78,130)" stroke-width="1.4" stroke-linecap="round" opacity="0.6"/>
<path d="M505.7,292.5 L508.3,296.8" stroke="rgb(115,78,130)" stroke-width="1.5" stroke-linecap="round" opacity="0.6"/>
<path d="M440.4,279.5 L443.3,282.8" stroke="rgb(115,78,130)" stroke-width="1.5" stroke-linecap="round" opacity="0.6"/>
<path d="M469.2,307.4 L471.8,312.7" stroke="rgb(115,78,130)" stroke-width="1.6" stroke-linecap="round" opacity="0.6"/>
<path d="M426.5,365.2 L430.4,359.1" stroke="rgb(115,78,130)" stroke-width="1.4" stroke-linecap="round" opacity="0.6"/>
<path d="M482.4,363.1 L484.6,367.4" stroke="rgb(115,78,130)" stroke-width="1.9" stroke-linecap="round" opacity="0.6"/>
<path d="M468.9,313.6 L472.5,316.2" stroke="rgb(115,78,130)" stroke-width="2.0" stroke-linecap="round" opacity="0.6"/>
<path d="M434.5,344.0 L438.3,340.7" stroke="rgb(115,78,130)" stroke-width="1.7" stroke-linecap="round" opacity="0.6"/>
<path d="M438.8,289.0 L444.3,293.1" stroke="rgb(115,78,130)" stroke-width="1.5" stroke-linecap="round" opacity="0.6"/>
<path d="M439.3,365.2 L441.4,360.8" stroke="rgb(115,78,130)" stroke-width="1.5" stroke-linecap="round" opacity="0.6"/>
<path d="M454.3,278.2 L457.5,281.6" stroke="rgb(115,78,130)" stroke-width="1.7" stroke-linecap="round" opacity="0.6"/>
<path d="M424.4,305.9 L428.3,312.4" stroke="rgb(115,78,130)" stroke-width="1.8" stroke-linecap="round" opacity="0.6"/>
<path d="M415.0,272.7 L419.6,278.8" stroke="rgb(115,78,130)" stroke-width="2.0" stroke-linecap="round" opacity="0.6"/>
<path d="M413.8,337.7 L418.2,333.7" stroke="rgb(115,78,130)" stroke-width="1.5" stroke-linecap="round" opacity="0.6"/>
<path d="M506.3,278.7 L509.6,283.9" stroke="rgb(115,78,130)" stroke-width="1.9" stroke-linecap="round" opacity="0.6"/>
<path d="M480.6,339.5 L486.0,345.0" stroke="rgb(115,78,130)" stroke-width="1.8" stroke-linecap="round" opacity="0.6"/>
<path d="M497.2,356.1 L500.2,360.9" stroke="rgb(115,78,130)" stroke-width="1.9" stroke-linecap="round" opacity="0.6"/>
<path d="M472.0,367.2 L476.2,373.5" stroke="rgb(115,78,130)" stroke-width="1.6" stroke-linecap="round" opacity="0.6"/>
<path d="M490.0,280.1 L495.6,284.2" stroke="rgb(115,78,130)" stroke-width="1.7" stroke-linecap="round" opacity="0.6"/>
<path d="M457.0,293.7 L461.4,298.9" stroke="rgb(115,78,130)" stroke-width="1.7" stroke-linecap="round" opacity="0.6"/>
<path d="M499.1,297.4 L502.0,300.2" stroke="rgb(115,78,130)" stroke-width="1.8" stroke-linecap="round" opacity="0.6"/>
<path d="M430.7,287.5 L435.4,293.4" stroke="rgb(115,78,130)" stroke-width="1.6" stroke-linecap="round" opacity="0.6"/>
<path d="M495.3,303.5 L500.3,307.9" stroke="rgb(115,78,130)" stroke-width="1.6" stroke-linecap="round" opacity="0.6"/>
<path d="M487.2,360.0 L492.3,365.4" stroke="rgb(115,78,130)" stroke-width="1.7" stroke-linecap="round" opacity="0.6"/>
<path d="M442.1,284.7 L445.4,289.7" stroke="rgb(115,78,130)" stroke-width="1.9" stroke-linecap="round" opacity="0.6"/>
<path d="M478.9,364.5 L482.8,367.8" stroke="rgb(115,78,130)" stroke-width="1.6" stroke-linecap="round" opacity="0.6"/>
<path d="M438.1,292.6 L441.7,297.0" stroke="rgb(115,78,130)" stroke-width="1.6" stroke-linecap="round" opacity="0.6"/>
<path d="M442.3,358.0 L445.0,352.8" stroke="rgb(115,78,130)" stroke-width="1.3" stroke-linecap="round" opacity="0.6"/>
<path d="M493.9,275.3 L498.1,280.7" stroke="rgb(115,78,130)" stroke-width="1.5" stroke-linecap="round" opacity="0.6"/>
<path d="M486.9,274.1 L489.9,277.6" stroke="rgb(115,78,130)" stroke-width="1.3" stroke-linecap="round" opacity="0.6"/>
<path d="M490.2,295.7 L493.8,298.4" stroke="rgb(115,78,130)" stroke-width="1.7" stroke-linecap="round" opacity="0.6"/>
<path d="M487.4,364.8 L492.4,369.2" stroke="rgb(115,78,130)" stroke-width="1.6" stroke-linecap="round" opacity="0.6"/>
<path d="M429.0,272.7 L432.6,277.4" stroke="rgb(115,78,130)" stroke-width="1.4" stroke-linecap="round" opacity="0.6"/>
<path d="M437.3,305.0 L441.9,310.1" stroke="rgb(115,78,130)" stroke-width="1.7" stroke-linecap="round" opacity="0.6"/>
<path d="M483.4,309.0 L486.8,315.3" stroke="rgb(115,78,130)" stroke-width="1.4" stroke-linecap="round" opacity="0.6"/>
<path d="M500.2,342.4 L503.2,345.8" stroke="rgb(115,78,130)" stroke-width="1.7" stroke-linecap="round" opacity="0.6"/>
<path d="M498.0,307.8 L501.0,313.3" stroke="rgb(115,78,130)" stroke-width="1.9" stroke-linecap="round" opacity="0.6"/>
<path d="M500.3,316.8 L505.2,321.2" stroke="rgb(115,78,130)" stroke-width="1.8" stroke-linecap="round" opacity="0.6"/>
<path d="M488.3,334.0 L493.5,338.5" stroke="rgb(115,78,130)" stroke-width="1.9" stroke-linecap="round" opacity="0.6"/>
<path d="M504.6,366.2 L507.8,371.4" stroke="rgb(115,78,130)" stroke-width="1.5" stroke-linecap="round" opacity="0.6"/>
<path d="M497.4,355.4 L501.7,358.7" stroke="rgb(115,78,130)" stroke-width="1.6" stroke-linecap="round" opacity="0.6"/>
<path d="M415.1,353.9 L418.3,351.1" stroke="rgb(115,78,130)" stroke-width="1.4" stroke-linecap="round" opacity="0.6"/>
<path d="M426.0,321.2 L429.9,327.0" stroke="rgb(115,78,130)" stroke-width="1.8" stroke-linecap="round" opacity="0.6"/>
<path d="M499.8,319.4 L506.0,324.2" stroke="rgb(115,78,130)" stroke-width="1.5" stroke-linecap="round" opacity="0.6"/>
</g>
<rect x="412" y="272" width="98" height="101" filter="url(#nz3)" style="mix-blend-mode:overlay" opacity="0.8"/>
</g>
<path d="M203.8,307.3 L184.2,320.6" stroke="#d8202a" stroke-width="2.0"/>
<path d="M178.8,324.2 L182.4,317.9 L186.0,323.2 Z" fill="#d8202a"/>
<path d="M227.5,326.3 L211.2,340.7" stroke="#d8202a" stroke-width="2.0"/>
<path d="M206.3,345.0 L209.1,338.3 L213.3,343.1 Z" fill="#d8202a"/>
<path d="M444.8,288.3 L458.4,305.4" stroke="#33329a" stroke-width="2.0"/>
<path d="M462.5,310.5 L455.9,307.4 L460.9,303.4 Z" fill="#33329a"/>
<path d="M440.5,320.4 L459.5,329.8" stroke="#33329a" stroke-width="2.0"/>
<path d="M465.3,332.7 L458.1,332.7 L460.9,326.9 Z" fill="#33329a"/>
<rect x="151.4" y="270.8" width="95.1" height="102.7" fill="none" stroke="#000" stroke-width="2.2"/>
<rect x="412.4" y="271.5" width="98" height="101.4" fill="none" stroke="#000" stroke-width="2.2"/>
<rect x="192.5" y="413.5" width="50.5" height="18.0" fill="#fff"/>
<path d="M195.4,424.6 H238.4 M195.4,421.0 V428.20000000000005 M238.4,421.0 V428.20000000000005" stroke="#222" stroke-width="1"/>
<text x="216.9" y="422.20000000000005" font-size="5.8" font-weight="bold" text-anchor="middle">50 µm</text>
<rect x="458.6" y="415.6" width="49.69999999999999" height="17.19999999999999" fill="#fff"/>
<path d="M462,427.2 H504.4 M462,423.59999999999997 V430.8 M504.4,423.59999999999997 V430.8" stroke="#222" stroke-width="1"/>
<text x="483.2" y="424.8" font-size="5.8" font-weight="bold" text-anchor="middle">50 µm</text>
<text x="0.2" y="489.6" font-size="18" text-anchor="start" font-weight="bold" >D</text>
<text x="92" y="484.8" font-size="9.9" text-anchor="middle" >Small Intestine</text>
<g stroke="#000" stroke-width="1.5" fill="none">
<path d="M37.3,503.0 V597.4 H145.6"/>
<path d="M33.7,597.4 H37.3"/>
<path d="M33.7,574.0 H37.3"/>
<path d="M33.7,550.5 H37.3"/>
<path d="M33.7,527.1 H37.3"/>
<path d="M33.7,503.7 H37.3"/>
</g>
<text x="33.3" y="600.8" font-size="9.6" text-anchor="end" >0</text>
<text x="33.3" y="577.4" font-size="9.6" text-anchor="end" >1</text>
<text x="33.3" y="553.9" font-size="9.6" text-anchor="end" >2</text>
<text x="33.3" y="530.5" font-size="9.6" text-anchor="end" >3</text>
<text x="33.3" y="507.1" font-size="9.6" text-anchor="end" >4</text>
<rect x="45.05" y="527.3" width="8.00" height="70.1" fill="#fff" stroke="#000" stroke-width="1.3"/>
<path d="M49.0,527.3 V524.4 M46.5,524.4 H51.5" stroke="#000" stroke-width="1.3"/>
<rect x="57.5" y="560.8" width="10.0" height="36.6" fill="#000"/>
<path d="M62.5,560.8 V556.1 M60.0,556.1 H65.0" stroke="#000" stroke-width="1.3"/>
<text x="55.6" y="609.3" font-size="9.4" text-anchor="middle" >8</text>
<text x="39.8" y="514.6" font-size="8.6" text-anchor="start" textLength="36.6" lengthAdjust="spacingAndGlyphs">p&lt;0.0001</text>
<path d="M49.4,520.7 V518 H62.5 V520.7" stroke="#000" stroke-width="1.1" fill="none"/>
<rect x="81.15" y="519.0" width="8.20" height="78.4" fill="#fff" stroke="#000" stroke-width="1.3"/>
<path d="M85.2,519.0 V516.2 M82.8,516.2 H87.8" stroke="#000" stroke-width="1.3"/>
<rect x="93.2" y="553.8" width="10.0" height="43.6" fill="#000"/>
<path d="M98.2,553.8 V550.6 M95.8,550.6 H100.8" stroke="#000" stroke-width="1.3"/>
<text x="91.8" y="609.3" font-size="9.4" text-anchor="middle" >14</text>
<text x="77.4" y="504.5" font-size="8.6" text-anchor="start" textLength="37" lengthAdjust="spacingAndGlyphs">p&lt;0.0001</text>
<path d="M83.2,512.9 V510.2 H98 V512.9" stroke="#000" stroke-width="1.1" fill="none"/>
<rect x="116.90" y="521.6" width="7.85" height="75.8" fill="#fff" stroke="#000" stroke-width="1.3"/>
<path d="M120.8,521.6 V517.6 M118.3,517.6 H123.3" stroke="#000" stroke-width="1.3"/>
<rect x="128.9" y="560.0" width="9.8" height="37.4" fill="#000"/>
<path d="M133.8,560.0 V557.1 M131.3,557.1 H136.3" stroke="#000" stroke-width="1.3"/>
<text x="127.4" y="609.3" font-size="9.4" text-anchor="middle" >29</text>
<text x="119.1" y="507.8" font-size="8.6" text-anchor="start" textLength="37" lengthAdjust="spacingAndGlyphs">p&lt;0.0001</text>
<path d="M120,513.6 V510.9 H133.3 V513.6" stroke="#000" stroke-width="1.1" fill="none"/>
<text x="48.9" y="625.2" font-size="9.4" text-anchor="start" textLength="88.4" lengthAdjust="spacingAndGlyphs">Days post allo-HCT</text>
<text transform="translate(17.299999999999997,551.05) rotate(-90)" font-size="9.6" text-anchor="middle" textLength="99.4" lengthAdjust="spacingAndGlyphs">GvHD histology score</text>
<text x="246.1" y="484.8" font-size="9.9" text-anchor="middle" >Large Intestine</text>
<g stroke="#000" stroke-width="1.5" fill="none">
<path d="M192.2,501.8 V596.8 H299.8"/>
<path d="M188.6,596.8 H192.2"/>
<path d="M188.6,573.2 H192.2"/>
<path d="M188.6,549.6 H192.2"/>
<path d="M188.6,526.1 H192.2"/>
<path d="M188.6,502.5 H192.2"/>
</g>
<text x="188.2" y="600.2" font-size="9.6" text-anchor="end" >0</text>
<text x="188.2" y="576.6" font-size="9.6" text-anchor="end" >1</text>
<text x="188.2" y="553.0" font-size="9.6" text-anchor="end" >2</text>
<text x="188.2" y="529.5" font-size="9.6" text-anchor="end" >3</text>
<text x="188.2" y="505.9" font-size="9.6" text-anchor="end" >4</text>
<rect x="200.05" y="520.2" width="7.90" height="76.6" fill="#fff" stroke="#000" stroke-width="1.3"/>
<path d="M204.0,520.2 V516.9 M201.5,516.9 H206.5" stroke="#000" stroke-width="1.3"/>
<rect x="212.6" y="556.2" width="9.0" height="40.6" fill="#000"/>
<path d="M217.1,556.2 V551.9 M214.6,551.9 H219.6" stroke="#000" stroke-width="1.3"/>
<text x="210.5" y="609.3" font-size="9.4" text-anchor="middle" >8</text>
<text x="194.8" y="510.4" font-size="8.6" text-anchor="start" textLength="37" lengthAdjust="spacingAndGlyphs">p&lt;0.0001</text>
<path d="M201.2,515.0 V512.3 H215.6 V515.0" stroke="#000" stroke-width="1.1" fill="none"/>
<rect x="235.55" y="516.4" width="7.70" height="80.4" fill="#fff" stroke="#000" stroke-width="1.3"/>
<path d="M239.4,516.4 V513.7 M236.9,513.7 H241.9" stroke="#000" stroke-width="1.3"/>
<rect x="248.0" y="560.0" width="9.4" height="36.8" fill="#000"/>
<path d="M252.7,560.0 V555.1 M250.2,555.1 H255.2" stroke="#000" stroke-width="1.3"/>
<text x="246" y="609.3" font-size="9.4" text-anchor="middle" >14</text>
<text x="234.1" y="503.3" font-size="8.6" text-anchor="start" textLength="37.5" lengthAdjust="spacingAndGlyphs">p&lt;0.0001</text>
<path d="M236.1,511.0 V508.3 H250.8 V511.0" stroke="#000" stroke-width="1.1" fill="none"/>
<rect x="271.25" y="520.6" width="7.70" height="76.2" fill="#fff" stroke="#000" stroke-width="1.3"/>
<path d="M275.1,520.6 V516.1 M272.6,516.1 H277.6" stroke="#000" stroke-width="1.3"/>
<rect x="283.9" y="558.8" width="9.2" height="38.0" fill="#000"/>
<path d="M288.5,558.8 V554.6 M286.0,554.6 H291.0" stroke="#000" stroke-width="1.3"/>
<text x="282" y="609.3" font-size="9.4" text-anchor="middle" >29</text>
<text x="273.9" y="507.3" font-size="8.6" text-anchor="start" textLength="38.8" lengthAdjust="spacingAndGlyphs">p=0.0002</text>
<path d="M273.5,512.4 V509.7 H287.9 V512.4" stroke="#000" stroke-width="1.1" fill="none"/>
<text x="203.79999999999998" y="625.2" font-size="9.4" text-anchor="start" textLength="88.4" lengthAdjust="spacingAndGlyphs">Days post allo-HCT</text>
<text transform="translate(172.2,550.15) rotate(-90)" font-size="9.6" text-anchor="middle" textLength="99.4" lengthAdjust="spacingAndGlyphs">GvHD histology score</text>
<text x="396.2" y="484.8" font-size="9.9" text-anchor="middle" >Liver</text>
<g stroke="#000" stroke-width="1.5" fill="none">
<path d="M344.7,499.5 V597.2 H447.3"/>
<path d="M341.1,597.2 H344.7"/>
<path d="M341.1,573.0 H344.7"/>
<path d="M341.1,548.7 H344.7"/>
<path d="M341.1,524.5 H344.7"/>
<path d="M341.1,500.2 H344.7"/>
</g>
<text x="340.7" y="600.6" font-size="9.6" text-anchor="end" >0</text>
<text x="340.7" y="576.4" font-size="9.6" text-anchor="end" >1</text>
<text x="340.7" y="552.1" font-size="9.6" text-anchor="end" >2</text>
<text x="340.7" y="527.9" font-size="9.6" text-anchor="end" >3</text>
<text x="340.7" y="503.6" font-size="9.6" text-anchor="end" >4</text>
<rect x="352.25" y="530.2" width="7.20" height="67.0" fill="#fff" stroke="#000" stroke-width="1.3"/>
<path d="M355.9,530.2 V526.5 M353.4,526.5 H358.4" stroke="#000" stroke-width="1.3"/>
<rect x="363.7" y="558.4" width="9.1" height="38.8" fill="#000"/>
<path d="M368.2,558.4 V554.4 M365.8,554.4 H370.8" stroke="#000" stroke-width="1.3"/>
<text x="361.6" y="609.3" font-size="9.4" text-anchor="middle" >8</text>
<text x="346.2" y="517.3" font-size="8.6" text-anchor="start" textLength="38.6" lengthAdjust="spacingAndGlyphs">p=0.0002</text>
<path d="M354.2,524.0 V521.3 H365.8 V524.0" stroke="#000" stroke-width="1.1" fill="none"/>
<rect x="386.35" y="518.5" width="7.30" height="78.7" fill="#fff" stroke="#000" stroke-width="1.3"/>
<path d="M390.0,518.5 V515.5 M387.5,515.5 H392.5" stroke="#000" stroke-width="1.3"/>
<rect x="398.2" y="551.6" width="9.1" height="45.6" fill="#000"/>
<path d="M402.8,551.6 V546.2 M400.2,546.2 H405.2" stroke="#000" stroke-width="1.3"/>
<text x="395.4" y="609.3" font-size="9.4" text-anchor="middle" >14</text>
<text x="381.7" y="504.1" font-size="8.6" text-anchor="start" textLength="39.1" lengthAdjust="spacingAndGlyphs">p=0.0002</text>
<path d="M388.5,512.2 V509.5 H403 V512.2" stroke="#000" stroke-width="1.1" fill="none"/>
<rect x="420.15" y="525.7" width="7.20" height="71.5" fill="#fff" stroke="#000" stroke-width="1.3"/>
<path d="M423.8,525.7 V522.9 M421.2,522.9 H426.2" stroke="#000" stroke-width="1.3"/>
<rect x="431.6" y="550.8" width="9.1" height="46.4" fill="#000"/>
<path d="M436.1,550.8 V549.1 M433.6,549.1 H438.6" stroke="#000" stroke-width="1.3"/>
<text x="431.5" y="609.3" font-size="9.4" text-anchor="middle" >29</text>
<text x="416.7" y="514.9" font-size="8.6" text-anchor="start" textLength="39" lengthAdjust="spacingAndGlyphs">p=0.0002</text>
<path d="M422.1,518.9000000000001 V516.2 H434.9 V518.9000000000001" stroke="#000" stroke-width="1.1" fill="none"/>
<text x="356.3" y="625.2" font-size="9.4" text-anchor="start" textLength="88.4" lengthAdjust="spacingAndGlyphs">Days post allo-HCT</text>
<text transform="translate(324.7,549.2) rotate(-90)" font-size="9.6" text-anchor="middle" textLength="99.4" lengthAdjust="spacingAndGlyphs">GvHD histology score</text>
<rect x="455.8" y="466.8" width="9.8" height="7.6" fill="#fff" stroke="#000" stroke-width="1.4"/>
<rect x="455.1" y="480.4" width="11.1" height="8.8" fill="#000"/>
<text x="472.3" y="474.8" font-size="10.2" text-anchor="start" textLength="32.3" lengthAdjust="spacingAndGlyphs">Vehicle</text>
<text x="472.3" y="488.3" font-size="10.2" text-anchor="start" textLength="46.2" lengthAdjust="spacingAndGlyphs">Ruxolitinib</text>
</svg>
</body></html>
